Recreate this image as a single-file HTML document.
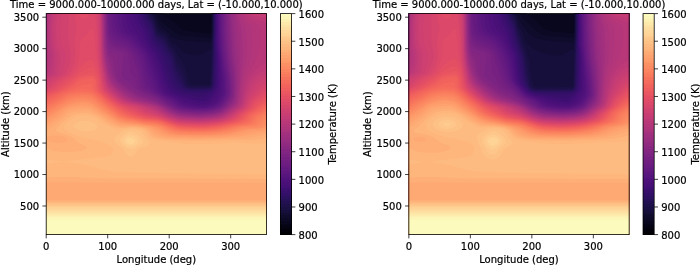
<!DOCTYPE html>
<html><head><meta charset="utf-8"><title>Temperature</title>
<style>
html,body{margin:0;padding:0;background:#fff}
svg{display:block}
.t{font-family:"DejaVu Sans","Liberation Sans",sans-serif;font-size:10px;fill:#000;stroke:#000;stroke-width:.2px}
.m{text-anchor:middle}.e{text-anchor:end}
.fr{fill:none;stroke:#000;stroke-width:.8}
.tk{fill:none;stroke:#000;stroke-width:.75}
</style></head><body>
<svg width="700" height="265" viewBox="0 0 700 265">
<defs>
<g id="fld">
<rect width="220.3" height="221" fill="#08071e"/>
<path fill="#0b0924" d="M0 0l117.3 0 .2 1 .5 1 .6 .9 1 .9 1 .5 2 .7 3 1.6 2 1.6 7.6 6.8 1.4 .9 1 .5 2.1 .6 7.8 1.1 9 .8 8 .4 .3-4.3 .2-15 55.3 0 0 221-220.3 0z"/>
<path fill="#0e0b2b" d="M0 0l111.7 0 1 3 .9 2.2 1.2 1.8 1.8 2.1 2 1.7 5 3.4 5 4.3 3 1.7 3 1.1 4 .9 10.9 .9 15 .9 .6-4 .4-3.5 .1-16.5 54.7 0 0 221-220.3 0z"/>
<path fill="#130d34" d="M0 0l108.2 0 1.2 2 3.2 7.5 1 1.6 3 3.4 1.8 1.5 2.7 2 5.5 5.8 1 .7 1 .4 4 1 6 1.1 16.9 1.3 9 .4 1-5.8 .2-3.9 .2-4 0-15 54.4 0 0 221-220.3 0z"/>
<path fill="#160f3b" d="M0 0l106.2 0 1.4 2 .6 1 3.4 9.1 1 2.2 1 1.5 2 1.7 4 2.6 1 .9 4 5.8 2 2.5 1 .7 1.9 1 2.5 2 1 1 2.6 3.1 1 .9 3 1.3 4.9 1.7 3 .8 2 .2 2-.1 2-.6 2-.8 5.8-3.5 1.9-1 .3-.1 1 0 1-7.9 .6-9 .2-19 54 0 0 221-220.3 0z"/>
<path fill="#1a1042" d="M0 0l104.5 0 2.2 2.9 1 1.9 2 6.3 1.4 3.9 1 2 .5 .8 1 1 5 3.1 1.2 1.1 .8 1.1 2 4 1.9 2.9 1.1 1.3 2 1.9 1 1.2 .8 1.6 1.2 2.9 2 3.5 2 3.1 2.6 3.5 1 2 .8 2 .9 3 1.7 7.1 2.2 5.9 1.3 1 .4 .1 1 .2 2 .1 7-.1 7.7-.3 .3 0 .3-1 .7-13.9 .3-12.1 .7-7.8 1-18.2 .1-18 53.7 0 0 221-220.3 0z"/>
<path fill="#1e1149" d="M0 0l103 0 2.7 4 1.2 2 .8 2 2 7 .9 2.4 1 1.8 1 1.2 .8 .6 4.2 2.6 1 .8 1 1 1 1.7 1 2.5 1 2.1 3.7 4.3 1.4 2 .9 2.1 2 6.5 2 3.9 3 4.8 1 2 1.6 4.7 2.1 8 .6 1 .7 .6 .8 .4 2.1 .6 2 .3 4 .1 6-.1 7-.3 .6-.6 .5-1 .2-1 .3-6 .6-20 .5-14 .7-12 .1-18 53.3 0 0 221-220.3 0z"/>
<path fill="#221150" d="M0 0l101.8 0 .9 1.9 3 4.5 1 1.8 1 2.9 1 4.1 .8 2.8 1.1 2.3 1 1.4 1 .9 4 2.6 1 .8 1.1 1 .9 1.3 2 4.7 .6 1 .4 .7 3 3.3 1 1.7 .6 1.3 .7 2 1.7 7.1 1 3 5 8.5 1 2.5 2 5.9 .4 1 .7 1 .9 .7 1 .5 .9 .3 2 .4 2 .2 5 0 5 0 7-.4 1-.7 .5-1 .3-1 .2-2 .3-5 .7-26.4 .3-8.6 .6-11 0-18 52.9 0 0 221-220.3 0z"/>
<path fill="#29115a" d="M0 0l100.6 0 .8 2 1 2 3.2 5 1.1 2.2 1 3.5 1 4.2 1 2.6 .9 1.5 1 1.1 1 .8 3.1 2.1 2.1 2 .8 1.2 1 1.8 2 4.2 1 1.3 2 2.2 .8 1.3 .4 1 1 3 2.4 10 1 3 1 2 4.4 7.2 1.7 3.8 .6 1 .9 1 .8 .6 1 .6 1 .3 2.9 .5 2 .1 6 .1 4-.1 7-.4 1.1-.7 .7-1 .7-2 .3-3 .2-7 .8-32 .5-12 0-17 52.5 0 0 221-220.3 0z"/>
<path fill="#2d1161" d="M0 0l99.4 0 1.1 3 1.2 2.7 3 4.8 1.2 2.5 .8 2 1.7 7 .9 2 .4 .6 .9 1.1 4 3.2 1 1.1 2 3 2.9 5 1.1 1.6 1.2 1.4 1.2 2 .6 1.3 1 3.3 1.7 7.4 1.6 6 .7 1.8 .6 1.2 1.2 2 5.2 7 1 1 1.6 1 1.4 .5 1 .2 2.9 .3 3 .2 6 .1 3-.1 6-.5 1-.1 1-.4 1-1.1 .6-1.1 .7-2 .2-2 .3-5 .4-14 .1-9 0-12 .5-13-.1-16 52.1 0 0 221-220.3 0z"/>
<path fill="#331067" d="M0 0l97.8 0 1.5 4 1.3 3 3.4 6 .9 2 .8 2 1.6 6 1.1 3 1.3 1.8 2.9 2.8 2 2.4 1.2 2 2.8 5.2 2.5 3.8 1.1 2 1.5 4 3.4 13 1.1 3 1.1 2 .6 1 1.7 2 3 3 2 1.4 1 .6 1 .4 2 .5 3.9 .4 9 .3 4-.2 6-.8 1-.3 1-.8 1.1-1.5 .5-1 .6-2 .3-3 .3-6 .4-14 0-7-.4-11 .4-14-.1-16 51.7 0 0 221-220.3 0z"/>
<path fill="#38106c" d="M0 0l96 0 .9 3 1.2 3 1.9 4 2.7 5 .8 2 2.4 8 1.2 3 1.2 2 2.8 3 1.5 2 1.8 3 3 6 2.9 7 1.3 3.4 3.5 11.6 1.4 3 1.3 2 1.8 2.3 1.8 1.7 2.2 1.5 3 1.3 2 .5 2 .3 8.9 1 5 .3 2-.1 2-.4 4.3-1.4 1.7-.4 1-.6 1-1 1.3-2 .5-1 .5-2 .3-4 .2-6 .3-17 0-3-.6-7-.1-3 .3-15-.2-16 51.3 0 0 221-220.3 0z"/>
<path fill="#3d0f71" d="M0 0l93.8 0 .7 3 1.4 4 1.3 3 3.2 6 .9 2 1 3 1.5 5 1.1 3 .8 1.6 .9 1.4 2.7 3 1.4 2 1.8 3 1.9 4 1.9 5 5.9 18 1.4 3.1 1.8 2.9 1.6 2 2.3 2 2.3 1.4 3 1.3 3 .8 4.9 .9 8 1.7 3 .5 2 .2 2-.1 1-.3 1-.5 2.8-1.9 3.2-1.9 2-2.2 1.2-1.9 .8-2 .5-2 .3-10 .2-19-.1-2-.7-6-.2-3 .3-16-.3-15 50.8 0 0 221-220.3 0z"/>
<path fill="#440f76" d="M0 0l91.1 0 .2 2 .5 2 1.3 4 1.8 4 2.8 4.9 1 2.1 1 2.5 2.2 6.5 .9 2 1.8 3 4.5 6 1.7 3 1.4 3 2.2 6 4.1 14 1.1 3 2 4.5 1.5 2.5 .8 1 1 1 1.3 1 1.6 1 2.1 1 5.7 2.4 3 1 10.9 3 4 .7 4 .3 1-.1 1-.3 1.8-1 4.2-3.5 1-1.1 3.4-5.4 .9-2 .5-2 .2-1 0-3-.2-26-.1-2-.8-6-.2-3 .1-17-.3-14 50.3 0 0 221-220.3 0z"/>
<path fill="#491078" d="M0 0l87.8 0 .2 3 .3 2 .8 3 .6 1.7 2.3 4.3 3.2 5 1.5 2.7 4.1 9.3 1.3 2 4.3 6 1.2 2 1.5 3 1.8 4 1.4 4 1.6 5 2.6 9 1.1 3.4 1 2.6 .9 2 1.1 1.9 .8 1.1 .9 1 1.1 1 1.2 .7 6 2.5 8 3.7 6.9 2.1 4 .9 4 .6 4 .3 2-.3 2-.8 2.6-1.7 1.4-1 1.1-1 1.5-2 3.4-5.9 .8-2.1 .4-2 .2-3 0-4-.9-24-.2-3-.7-5-.2-3 0-18-.3-13 49.7 0 0 221-220.3 0z"/>
<path fill="#4e117b" d="M0 0l83.8 0 .2 4 .5 3 .8 3 1.1 3 1 2 .7 1 3.6 4.1 2.3 2.9 1.7 2.8 2.7 5.2 5 7 1.8 3 3.1 7 2.3 6 1.3 4 2.8 9 1.9 5.8 1.6 3.2 1.4 2 1 1.1 2 1.4 1 .5 6 2.4 2 1 5 2.8 2 1 5.9 1.7 4 .8 4 .6 5 .2 1-.1 2-.4 2-.8 4-2.2 1.2-1 1.7-2 3.2-5 .8-2 .6-3 .3-5-.2-6-1.4-23-1.1-10 0-19-.4-12 49.1 0 0 221-220.3 0z"/>
<path fill="#52137c" d="M0 0l79.7 0 .2 4 .5 4 .8 4 .9 3 .5 1 .8 1 1 1 4.3 3.5 1.5 1.5 1.5 1.7 1.6 2.3 2.6 4 4.6 6 2 3 1 2 .8 2 5.4 14.2 4.8 14.8 1.4 3 1.3 2 2.2 2 1.4 1 2 1 3.8 1.5 3 1.4 1.8 1.1 4.2 2.8 2.3 1.2 3.5 1 5.3 1 5.8 .6 5 .2 2-.2 2.5-.6 4.5-1.9 2-1.2 1-.9 1-1 2.9-4 1.3-2 .7-2 .3-6 0-4-.1-3-1.2-14-.9-11-1.1-10-.1-19-.4-12 48.4 0 0 221-220.3 0z"/>
<path fill="#57157e" d="M0 0l75.7 0 .2 4 .4 4 .8 5 .5 2 .3 1 .8 1.2 1.9 1.8 5.1 3.6 3 2.6 2 2.4 3.3 4.4 4.3 5 2 3 1.3 3 3.8 11 4.9 13 2 6 1.4 3 1.4 2 2.1 2 1.4 1 3 1.7 5 2.1 2 1.1 1.7 1.1 3.9 3 2.4 1.2 2.5 .8 6.3 1 6.1 .6 5 .1 3-.1 3-.6 4-1.3 1.4-.7 1.7-1 1.3-1 1-1 2.5-3.3 1.2-1.7 .8-1.6 .5-1.4 .2-1 0-9-.2-4-1.6-15-2-20-.3-19-.3-12 47.6 0 0 221-220.3 0z"/>
<path fill="#5d177f" d="M0 0l71.6 0 .2 4 .4 4 1 6 .6 2.2 1 1.5 1.2 1.3 2.8 2 4.9 3.2 3 2.4 2 2.2 3.4 4.2 3.8 4 2.2 3 1 2 .7 2 3.2 11 1.7 5 2.9 7 2.2 6 1 2 1.3 2 1.9 2 2.6 2 3.3 2 6.7 3.2 1.2 .8 4.8 3.8 2.3 1.2 3.5 1 6.1 .8 6 .6 5 .2 4-.2 4-.7 2.7-.7 1.3-.5 1.3-.5 1.7-1 2.5-2 1.4-1.7 2.8-4.3 .9-2 .3-1 .2-1 0-2-.2-7-.1-3-.6-5-1.6-13-1.9-18-.8-31 46.9 0 0 221-220.3 0z"/>
<path fill="#621980" d="M0 0l68.2 0 .2 4 .4 5 1 6 .6 2 1.4 2 2 1.8 1.7 1.2 6.2 3.6 3 2.3 9.4 10.1 1.6 2 1.1 2 1 3 3 12 1.5 5 4.1 10 1.1 2 1.3 2 2 2 3.8 3 3.3 2 7.4 4 5.1 4 1.6 1 1.6 .7 3 .9 3 .5 8.9 1 7 .3 3-.1 2-.2 5-1 3.6-1.1 2.4-1.2 2.4-1.8 1.7-2 3-5 .8-1.9 .3-1.1 .2-1 0-3-.4-9-.6-5-2-14-1.7-17-.9-31 46 0 0 221-220.3 0z"/>
<path fill="#671b80" d="M0 0l65.5 0 .2 6 .5 5 .8 5 .8 2.1 1 1.6 1 1.3 2 1.7 2.1 1.3 5.8 3 1.5 1 1.5 1.2 6.9 6.8 2.6 3 1.4 2 1.4 3 1.3 4 .9 4 1.5 7.5 1 3.8 2 5.4 1 2.3 1 2 1.4 2 2.1 2 5.4 4 8.6 5 3 2 3.9 3 1.6 1 2 1 2.9 1 5 .9 8.9 1 6 .2 5-.2 6-1 4-1.1 1.9-.8 1.8-1 1.2-1 1-1 1.6-2 2.9-5 .8-2 .3-1 .1-1 0-3-.4-9-.6-5-2.3-15-1.6-15-.3-7-.7-25 45.1 0 0 221-220.3 0z"/>
<path fill="#6b1d81" d="M0 0l63.5 0 .3 8.3 .6 6.7 .4 2.2 1 2.5 1 1.7 1 1.2 2 1.9 2.3 1.5 4.7 2.2 1.9 1.1 2 1.4 3 2.4 2 1.8 2 2 2.6 3.1 1.1 2 .9 2 1.8 5 1.3 5 1.7 9 1.6 6.2 1.1 2.8 1.3 2 .9 1 2.5 2 4.4 3 10.2 6 5.4 4 1.5 1 3.6 2 2 .9 3 .9 4 .8 8.9 .9 7 .3 3-.1 3-.2 6-1 2-.5 2-.7 2.9-1.3 1.5-1 1-1 1.5-1.8 .9-1.2 2.8-5 .8-2 .2-1 .2-1 0-3-.3-7-.3-3-.6-5-1.7-9.9-.8-6.1-1.3-13-.5-9-.7-23 44.2 0 0 221-220.3 0z"/>
<path fill="#701f81" d="M0 0l62.3 0 .2 8 .4 8 .8 4 1.1 2.7 1.7 2.3 2.3 2.1 3 1.9 6.9 3.3 2 1.2 2 1.5 2 1.7 1.2 1.3 1.6 2 1.1 2 2.1 5.1 1.4 3.9 .6 2 1 4.1 2.8 13.9 .7 2 .5 1 .8 1 1.3 1 1.6 1 15.6 9 5.3 4 1.6 1 3.7 2 3 1.4 3 1 5 .9 8.9 .9 6 .3 6-.2 7-1 2-.5 2.4-.8 2.4-1 1.1-.6 2-1.6 2.4-2.8 3-5 1.2-3 .4-2 0-2-.7-11-.8-7-1.6-9-.8-6-1.2-12-.6-11-.6-21 43.2 0 0 221-220.3 0z"/>
<path fill="#762181" d="M0 0l61.6 0 .1 10 .3 7 .8 5.5 1 2.7 1 1.7 1 1.2 1.9 1.9 1.1 .8 2.4 1.2 5.6 2 2.9 1.5 2 1.4 1 .9 1.8 2.2 1 2 2.6 8 2.6 6.6 1 3.4 1 4.5 1.2 7.5 .7 2 .7 1 1 1 1.5 1 11.9 6 3.6 2 2.3 1.5 4.8 3.5 1.6 1 3.8 2 4.3 2 3.5 1.1 4.7 .9 9.2 1 6 .2 6-.3 7-.9 4-1.1 2.4-.9 1.5-.7 2-1.3 1.1-1 2.5-3 2.9-5 .5-1 .7-2 .3-2 0-2-.7-11-1-8-2.3-14.9-1-11.1-.7-13-.6-19 42.2 0 0 221-220.3 0z"/>
<path fill="#7b2382" d="M0 0l60.9 0 .2 9 .3 9 .4 4.6 1 4.9 1 2.3 .8 1.2 1.2 1.3 1 .7 2 1 5 1.5 3.6 1.5 1.3 .8 1 .7 1.4 1.5 .6 1 .2 1 .8 5 .8 7 .9 4 .8 2 .5 1 2.9 4 .5 1 .6 1.8 1.3 5.2 .4 1 .7 1 1.6 1.5 2.3 1.5 2 1 7.7 3.3 4 1.9 3.1 1.8 5.9 4 3.4 2 4.5 2.2 4 1.8 3 .9 5 .9 8.9 .9 6 .2 6-.3 7-.9 4-1 2-.7 2.2-1 1.6-1 1.3-1 1.1-1 1.7-2 1.5-2 1.5-2.7 1-2.1 .4-1.2 .4-2 .1-2-.4-9-.9-9-2.3-16-.6-6-1.2-17-.7-21 41.1 0 0 221-220.3 0z"/>
<path fill="#802582" d="M0 0l60.4 0 .2 12 .3 8 .9 8.3 1 4.1 1 1.8 1 1 1 .7 2 .8 3 .7 2.1 .6 1.9 1 1 .7 .4 .3 .7 1 .2 1-.2 5-1 11-.1 4 0 1 .6 1 1 1 1.3 1 3.3 2 1.7 1.2 2 2 2.2 2.8 .9 1 2.3 2 1.5 1 3.8 2 7.3 2.8 4.9 2.2 3 1.7 9 5.3 5.9 3 2.2 1 2.9 1.1 4 .9 3 .5 6.9 .7 4 .3 4 .1 6-.3 7-.9 2-.4 3-.9 1.9-.8 2-.9 2-1.3 1.4-1.1 1.9-2 1.6-2 .8-1 1.3-2.4 .7-1.6 .7-2 .3-2 .1-2-.4-10-.8-8-2.1-15-.6-6-1.2-19-.8-20 40 0 0 221-220.3 0z"/>
<path fill="#842681" d="M0 0l59.8 0 .2 10 .3 10 .5 6.4 1 7 1 3.2 1 1.6 1 .8 1 .5 3.6 1.5 .9 1 .4 1 .4 2 .2 2 .6 15 .3 1 .4 1 1.2 1.5 2 1.9 4.7 3.6 4.9 4 4.1 3 2.2 1.4 3.2 1.6 6.8 2.3 5 2.1 5.9 3 11 6 4 1.9 3 1.2 2 .6 4 .8 9.9 1.1 7 .3 6-.3 7-.9 2-.4 3-.9 1.9-.7 2-.9 2-1.2 2.5-2 3.6-4 .8-1 1-2 1.1-3 .4-2 .2-2-.3-12-.6-7-2-15-.6-6-1.3-20-.8-19 38.9 0 0 221-220.3 0z"/>
<path fill="#892881" d="M0 0l59.3 0 .2 12 .3 9.5 .7 8.5 .7 5 .6 2.7 1 2.8 1 1.9 1.3 1.6 .6 1 .5 1 .7 2 .7 3 1.8 10 .5 2 1.1 2 1.8 2.2 2 1.9 4.5 3.9 5.7 4 5.7 3.6 3 1.4 9 3.1 7.9 3.3 5 2.4 8 4.4 4 1.9 3 1.1 2 .6 4 .8 9.9 1.1 7 .2 6-.3 7-.8 4-.9 2.9-1.1 2-.9 2-1.1 2.5-1.8 2.1-2 1.9-2 1.5-2 1-2 .7-2 .4-2 .3-3 .1-9-.2-4-.6-7-1.7-13.1-.7-6.9-1.2-20-.9-19 37.7 0 0 221-220.3 0z"/>
<path fill="#902a81" d="M0 0l58.9 0 .2 15 .3 9 .5 7 .9 6.6 1 4 1 3.4 1.8 5 3 12 .4 1 1.1 2 1.5 2 1.2 1.4 3 3 3.1 2.6 7.3 5 4.5 2.7 4 1.7 10 3.3 7.9 2.9 4 2 8 4.4 5 2.2 4 1.4 2 .4 3 .4 8.9 .9 7 .3 7-.4 7-.9 4-1 3.9-1.6 2-1.1 2.3-1.6 2.5-2 2-2 1.8-2 .6-1 1.1-3 .7-3 .2-3 .3-8-.1-5-.6-8-1.7-14-.6-6-.8-13-1.3-25 36.5 0 0 221-220.3 0z"/>
<path fill="#942c80" d="M0 0l58.5 0 .2 16 .3 9 .6 9 .2 2.5 .4 2.5 2.6 11.1 3.3 11.9 .8 2 1.2 2 1.7 2.2 2 2.3 2.6 2.5 4.3 3.3 7 4.7 3.7 2 2.3 1 2.8 1 12.2 3.6 4.9 1.8 4 1.9 8 4.5 5 2.2 4 1.3 4 .7 9.9 .9 7 .3 6-.3 7.9-.9 4.1-1 3.9-1.5 2-1.1 2.1-1.4 2.6-2 2.4-2 1.9-2 .7-1 .6-1 .7-1.9 .5-2.1 .3-2 .5-6 .2-5-.1-6-.5-9-1.5-13-.5-5-2.3-38 35.3 0 0 221-220.3 0z"/>
<path fill="#992d80" d="M0 0l58.1 0 .2 18 .3 11 .4 6 .8 6.4 3 13.6 2 7 1 2.4 1 1.9 1.9 2.7 1.7 2 3.3 3 4.1 3.2 5.5 3.8 3.4 2 4 1.8 3.5 1.2 3.4 1 7.1 1.7 5.9 2 2 .8 3 1.5 6 3.6 2 1 5 2.2 4 1.2 4 .6 9.9 .9 7 .2 6-.2 7-.7 4-.8 3.9-1.3 2-1 2-1.1 2.3-1.6 3.9-3 1.2-1 1.8-2 .8-1.1 .4-.9 .4-1 .4-2 .5-3 .8-9 .1-4-.2-8-.5-9-1.9-22.2-.7-11.8-1.3-18 33.9 0 0 221-220.3 0z"/>
<path fill="#9e2f7f" d="M0 0l57.6 0 .3 20 .3 10 .5 8 .7 5 .4 2.4 2 9.3 1 4.2 .9 3.1 1.1 2.7 1 2 1.4 2.3 1.6 2 3.2 3 5.8 4.6 4.7 3.4 3.6 2 4.6 1.9 3.6 1.1 10.4 2.4 5.9 2 4 1.8 8 4.7 4.7 2.1 4.3 1.4 4 .7 9.9 .9 8 .3 6-.2 8-.9 4-.8 1.9-.6 2-.8 2-1 2-1.3 6.5-4.7 1.1-1 1.8-2 .7-1 .5-1 .5-2 .5-3 1-11 0-10-.2-12-.4-9-1.6-22-2-19 32.5 0 0 221-220.3 0z"/>
<path fill="#a3307e" d="M0 0l57.2 0 .5 30 .4 6 .7 7.5 1 5.5 2 9.4 1 3.8 1 2.6 1 2.2 1.8 3 1.2 1.5 2 1.9 3 2.6 4 3.3 2.9 2.2 2.3 1.5 1.8 1 2.1 1 2.4 1 3 1 3.9 1 9.5 2.1 5.8 1.9 2.1 .9 2 1.1 5 3.1 3.5 1.9 4.5 1.8 3 1 3 .7 5 .6 8.9 .6 6 .2 6-.3 8-.8 4.1-.8 3.8-1.2 2-1 2-1.2 7.8-5.6 1.2-1.1 1.6-1.9 .7-1 .4-1 .4-2 .5-3 .9-10 .9-26 0-6-.1-4-1.6-21-.4-3-2.3-13 30.9 0 0 221-220.3 0z"/>
<path fill="#aa337d" d="M.8 0l56 0 .5 31 .5 7 .8 8 1.2 6.4 1.9 8.6 .5 2 1.2 3 1.4 2.9 1 1.6 1.1 1.5 3.9 3.6 7 5.8 3.9 2.6 4.2 2 2.7 1 2.1 .6 13 2.9 6 1.9 3.5 1.6 6.4 3.9 3 1.6 3.5 1.5 4.5 1.5 3 .6 5 .6 8.9 .6 6 .2 6-.3 8-.8 5-1 1.9-.5 2-.8 2-1.1 1.7-1 8.5-6 1.1-1 1.6-2 .5-1 .4-1 .8-4 .6-6 1.3-18 1.6-14 .1-5-.1-5-.6-12-.3-5-.4-4-.7-3-2.1-7.1-1.2-4.9 29.1 0 0 221-220.3 0 0-209z"/>
<path fill="#ae347b" d="M1.6 0l54.8 0 .5 32 .5 7 .8 8 .9 5 1.9 9 .8 3.3 1 2.6 1.6 3.1 1.3 2 1.1 1.2 2.9 2.8 7.1 6 2.9 2 3 1.6 3.5 1.4 2.5 .8 14.3 3.2 3.5 1 2.8 1 3.3 1.6 8 4.7 2 1 3 1.2 5 1.6 4 .8 4 .4 6.9 .5 8 .2 6-.2 8-.8 5-.9 3.5-1.1 2.1-1 1.8-1 8.7-6 1.4-1 1-1 1.5-2 .8-2 .8-4 .7-7 .8-9 .8-5.9 1-5 1.9-8.1 .6-3 .2-3 .2-10 0-5-.2-5-.4-5-.5-4-.7-2-3.5-7-1.8-5 27.1 0 0 221-220.3 0 0-191 1-20z"/>
<path fill="#b3367a" d="M2.5 0l53.5 0 .5 33 .5 8 .8 7 1 5.9 1.9 9.1 .9 3 1.2 2.9 1 1.8 1 1.5 1.5 1.8 2 2 7.5 6.5 2.1 1.5 3.6 2 2.4 1 3.1 1 14.7 3.4 5.5 1.6 2.5 1 1.9 .9 8.8 5.1 2.2 1 2.5 1 5.5 1.7 4 .8 10.9 .8 8 .3 6-.2 8-.8 5-.9 1.9-.5 2-.7 2-.9 2-1.1 9.7-6.5 1.3-1 .9-1 1.1-1.5 .8-1.5 .7-3 2.1-16 1.1-6 1.3-4.3 3.4-9.7 1.2-4 .5-3 1-9 .2-3-.1-11-.3-5-.1-1-.5-1-.7-1-5.6-6.6-2-3.2-1.1-2.2 25 0 0 221-220.3 0 0-168.4 1-3.8 .5-4.8 .1-3-.4-8 0-6 .6-16z"/>
<path fill="#b83779" d="M3.5 0l52.1 0 .4 33 .5 8 .9 8 1.2 7 2.2 10.1 1 2.7 1.1 2.2 1.4 2 1.5 1.8 2 2 7 6.1 3 2.1 1.9 1.1 2 .9 3 1 16.7 4 4.3 1.3 4.1 1.7 9.1 5 2.7 1.3 3 1.2 5 1.6 3 .7 2 .3 10.9 .8 8 .3 6-.3 8-.7 5-.8 3.9-1.1 2-.9 2.7-1.4 5.8-4 4.6-3 1.3-1 1.5-2 1-2 .3-1 2.8-16 .6-3 .9-3 1-3 1.5-3.2 2-3.7 4.8-8.1 1.3-3 2.6-10 .6-3 .1-2 .2-15-.2-1-.6-1-.9-1-1.3-1-5.7-3.4-2.9-2.4-3-3.1-1.5-2.1 22.4 0 0 221-220.3 0 0-161.9 1.5-3.1 .9-3 .8-4 .4-4 .1-3-.1-2-.9-6-.2-4 .2-18 .3-5.5z"/>
<path fill="#bd3977" d="M4.7 0l50.4 0 .5 33 .3 7 .6 6 1.3 9.1 2.3 10.9 .7 2.5 .6 1.5 1.1 2 1.3 1.9 1 1.2 1.9 1.9 6.7 6 3.4 2.4 2.9 1.6 2.6 1 2.4 .7 9.9 2.3 7.5 2 2.6 .9 5.9 2.5 6.7 3.6 4.3 2.1 5 1.8 5 1.3 2 .4 4 .4 10.9 .7 6 .1 6-.3 9-1 4.9-.9 2-.6 2.5-1 3.6-2 5.7-4 4.8-3 1.1-1 .8-1 1.1-2 .7-2 1.7-8.1 2.3-8.9 1-3 1.7-3.6 1-1.6 1.9-2.7 2-2.4 2-2 3-2.7 3-2.4 2-1.3 2-1.1 0 172.8-220.3 0 0-159.1 1.3-.9 1.2-1 .6-1 .4-1 .7-2 .7-3 .5-3 .4-3 .2-4-.1-3-1.5-6-.3-2-.2-2 0-18 .1-4zM201 0l19.3 0 0 9.4-11-3.7-2-.7-1-.6-1.9-1.2-2-1.8z"/>
<path fill="#c43c75" d="M6.4 0l48.3 0 .5 35 .3 6 .4 5 1.5 10 1.9 10 .6 2 .9 2.7 1 1.9 .9 1.4 1.1 1.4 1.5 1.6 6.5 5.8 3 2.4 3.1 1.8 2.3 1 3.1 1 10.4 2.4 8.5 2.6 8.4 3.5 7.1 3.5 3.9 1.8 3.4 1.2 4.6 1.4 4 .8 5 .5 10.9 .6 4 .1 4-.1 8-.7 7-1 2.8-.6 2.1-.7 2-.8 2-.9 3-1.9 4-2.9 6-3.8 1-1 .7-1 .6-1 .8-2 2.2-8 3.1-9 1.6-3.3 1.1-1.7 1.8-2.5 1.4-1.5 1.6-1.6 3-2.2 2-1.1 2-1 2-.6 1-.2 0 164.7-220.3 0 0-157.3 3-1.7 1.6-1 1.1-1 .5-1 .8-3 .6-3 .4-3 .2-4 .1-5-.3-2-1.2-4-.8-3-.2-2-.3-7-.1-11 .4-6zM204.6 0l15.7 0 0 4.6-5-.8-6-1.4-2-.6-1-.6z"/>
<path fill="#c83e73" d="M8.4 0l45.7 0 .7 35 .2 7 .3 4 1.1 8 1.2 7 1 5 1.4 5 .8 1.8 1 1.6 1.2 1.6 1.8 1.8 5.8 5.2 3.9 3 3.3 1.8 1.9 .8 3 1 10 2.2 3.6 1.2 5.5 2 8.8 3.5 10 4.6 3 1.1 4 1.3 5 1.2 4 .5 11.9 .7 8 0 8-.6 8-1 4.9-1.2 4-1.6 3-1.7 5.1-3.8 5-3 1.3-1 .6-.6 .9-1.4 1-2 2.1-6.2 3-6.9 1.9-3.9 2.6-4 2.4-2.8 1.4-1.2 1.6-1.2 3-1.7 2-.6 2-.4 0 159.9-220.3 0 0-155.5 6.4-3.5 1.5-1 1-1 .5-1 .8-5 .5-6 .1-7-.3-2-1.8-5-.7-3-.6-10-.1-6 .1-4 .4-6zM212.9 0l7.4 0 0 .7-3-.1z"/>
<path fill="#cd4071" d="M11.2 0l42.2 0 .4 15 .5 24 .4 7 .8 6 2.2 13 1.5 6 .7 2 1.1 2 1.6 2 1.2 1.2 6.6 5.8 3.4 2.5 3 1.7 1.9 .8 3 1 8.8 2 3.3 1 7.9 3.3 8.9 3.2 10 4.3 5 1.7 5 1.4 4 .7 11.9 .8 5 .2 4 0 7-.5 9-1 5.1-1.1 2.8-.9 2-.8 2-1 2-1.1 5-3.8 5-3 1.7-1.4 .9-1 1.1-2 2.3-5.9 1-2 3.9-6.6 2-2.9 2-2.6 2-2.1 1.1-.9 1.9-1.3 2-1 1-.3 2-.5 0 156.1-220.3 0 0-153 2.4-2 7.4-4 1.5-1 1-1 .4-1 .6-5 .4-4 .2-5 .1-4-.4-2-2.4-6-.5-2-.6-7-.3-6 0-4 .2-4.2 .5-4.8z"/>
<path fill="#d2426f" d="M15.9 0l36.6 0 .4 12 .7 28 .5 7 1 7 1.4 9 .8 4 1.5 5.6 1 2.3 .7 1.1 1.3 1.6 1.4 1.4 7 6 3.6 2.5 2.9 1.5 4 1.5 10.3 2.5 2.7 1 4 2 2.4 1 3.6 1.3 6.9 2.2 8.8 3.5 4.2 1.5 6 1.8 4 .8 4 .4 6.9 .4 9 .3 4-.1 4-.3 10-1 4.9-1 2.7-.8 2.3-.8 2.6-1.2 1.8-1 1.6-1.1 3.6-2.9 4.9-3 1.4-1 1.1-.9 .8-1.1 .6-1 2.2-5 1.4-2.4 1.9-2.7 6-7.5 2-2.1 2-1.6 2-1.2 1.4-.5 1.6-.4 0 152.4-220.3 0 0-149.7 2.2-2.3 2.2-2 1.4-1 1.7-1 5.8-3 1.4-1 1-1 .4-1 1.6-7 1.1-6 .3-3 0-2-.1-1-.6-2-2.4-5-.7-2-.7-6-.4-7-.1-4 .3-4 .6-4.6z"/>
<path fill="#d6456c" d="M22.7 0l28.5 0 .6 9.7 .9 30.3 .3 5 .9 7 2.2 13 1.6 7 .6 2 1 2 .6 1 1.9 2 5.8 5 3.2 2.5 3 1.9 2 1 2 .9 2.9 .9 7.1 1.8 2.9 .9 2.4 1.1 4.6 2.4 2 .9 3 .9 8.9 2.6 12 4.4 5 1.5 3 .7 3 .5 4 .3 8.9 .5 6 .1 7-.3 10-1 3.9-.6 3.8-.9 3.2-1 3-1.2 3-1.7 5.2-4.1 4.8-3 2-1.6 1.1-1.4 2.9-5.5 1.9-2.8 7-7.4 2-1.9 2-1.5 2-1.1 2-.6 0 148.8-220.3 0 0-146.7 1.5-1.3 3.9-4 2.4-2 1.5-1 7.5-4 1.3-1 1-1 .5-1 2.9-7 1.4-4 .8-4 .2-3-.4-3-1.4-5-.5-3-.3-9-.1-7z"/>
<path fill="#dc4869" d="M27.5 0l20.9 0 .4 2.4 .8 5.6 .8 8 .4 6 .8 18 .7 8 1 6 3.2 17 1.2 4 1.1 2.2 1.6 1.8 5.8 5 3.9 3 3.7 2.3 2 1 2.9 1.2 8.8 2.5 2.2 .8 2.6 1.2 4.4 2.4 2 .9 3 .9 9.9 2.4 11 3.9 5 1.5 3 .8 3 .6 5 .4 7.9 .4 9 .2 4-.2 5-.4 6-.6 3.9-.7 3-.6 3.4-.9 2.9-1 2.7-1.2 1.5-.8 1.4-1 4.9-4 4.7-3 1.3-1 1-1 .8-1 2.9-5 1.4-1.9 1-1 8-7.1 2-1.4 2-1 1-.4 0 145.8-220.3 0 0-144.7 2.2-1.3 1.3-1 5.4-5 2.5-2 1.5-1 5.8-3 1.6-1 1.3-1 1-1 .7-1 2.5-5 1.2-3 1-3 .5-2 .3-2 .1-2 0-3-.8-8 .2-4 .6-4 1.4-6 .2-2-.3-3-1.9-8z"/>
<path fill="#e04c67" d="M31.6 0l10.8 0-.4 2-.9 2-.2 .3-1 .7-1 .2-2-.3-1-.3-1-.5-1-.8-1-1.2zM44.2 16l.7-.7 1-.3 1 1.7 .9 4.8 .3 2.5 .7 7 .5 8 .4 4 2.1 9 3.9 20 .9 3 .8 2 .7 1 .9 1 5.8 5 3.9 3 4.1 2.6 4 2 2.9 1.1 6 1.9 3 1.2 3 1.4 4 2.1 2 .9 3 .9 10.9 2.3 15 4.9 4 1.1 3 .6 5 .4 6.9 .4 9 .2 4-.1 5-.4 7-.7 3.9-.6 5-1.1 4-1.1 4-1.6 2.4-1.4 4.7-4 4.9-3.2 2.4-1.8 1-1 .7-1 2.8-4.3 1.6-1.7 1.4-1.3 8-6.1 3-1.7 0 143.1-220.3 0 0-143.4 3.8-1.6 1.6-1 2.5-2 5.8-5 3.1-2 6.1-3.3 2.3-1.7 1-1 1.7-3 2.5-5 1.6-4 .9-3 .5-3 .3-12 .4-2 .8-1.7 1-1.1 3.8-3.2 2.9-3 .3-.4 1-2.2z"/>
<path fill="#e44f64" d="M42.3 47l1.6-.6 2-.3 1 .7 .9 1.5 1 2.1 2 4.3 1 3.3 2 8.7 1.1 6.3 .5 2 .9 2 .6 1 1.9 2 4.5 4 4 3 4.5 3 3 1.7 3.9 1.7 8 3.1 10 4.6 3.1 .9 9.9 1.7 2.9 .7 14 4.6 3 .8 3 .7 6 .6 9.9 .5 6 .1 5-.2 10-.9 3.9-.6 6-1.2 6.5-1.8 2.5-1 2-1.1 2-1.5 3.8-3.4 5.2-3.4 2.1-1.6 1-1 3-4 1.8-2 2-1.5 4-2.8 5-3.2 0 140.5-220.3 0 0-142.2 4.8-1.8 2.2-1 3-2 5-4 2.6-2 7.3-4.3 2.4-1.7 2.3-2 3.3-5 2-2.6 1-1 3-2.3 2-1.3z"/>
<path fill="#e85362" d="M44.6 54l1.3-.1 1 .4 .9 .9 1 1.5 2 3.8 1 2.6 1 3.8 .8 5.1 .6 3 .8 2 .7 1 3.1 3.2 4 3.5 3 2.3 5 3.4 3 1.8 3 1.5 16.9 7.3 3 1.2 3.1 .8 9.9 1.4 2.9 .7 4 1.2 10 3.3 3 .9 3 .6 5 .6 10.9 .6 6 0 5-.2 10-.9 4.9-.7 7.2-1.5 5.8-1.6 3-1.2 1.9-1.2 1.3-1 4.4-4 7.4-5 1.1-1 2.8-3.5 1.7-1.5 3.3-2.2 6-3.6 0 137.8-220.3 0 0-141 8.2-3 2.2-1 3-2 5.5-4.2 6-3.9 7.3-4.9 1.4-1 2.3-1.9 1-.7 4-2.3 2-.7z"/>
<path fill="#eb5760" d="M41.6 60l2.3-.6 2-.2 1 .3 .9 .8 1 1 1.2 1.7 .8 1.7 .5 1.3 .4 2 .8 6 .6 2 .5 1 1.7 2 3.5 3.5 3 2.6 5 3.7 4 2.6 4 2.5 3.9 2 6.9 3.1 5 2 5.5 2 3.6 .8 10 1.3 2.9 .6 4 1.2 11 3.7 3 .8 3 .5 5 .5 10.9 .6 5 0 6-.2 9-.9 3.9-.5 6-1.2 9-2.2 2.8-1 2.2-1.2 2-1.6 3.2-3.2 1.2-1 6.4-4 1.4-1 2.9-3 1.8-1.6 3-1.9 5-2.6 0 135.1-220.3 0 0-139.4 3.5-1.6 8.1-3 2.1-1 11.2-7.4 5-3.9 3-1.7 2-.9z"/>
<path fill="#ef5d5e" d="M40.3 63l2.6-.5 3-.2 1 .2 .9 .6 1 1.2 .9 1.7 .4 2 .7 6 .5 2 .5 1 3 2.8 4 4 3 2.5 10 7 3 1.9 3 1.6 4.4 2.2 4.5 1.8 9.8 3.2 3.2 .6 10 1.2 2.9 .5 4 1.2 11 3.7 4 1.1 2 .3 6 .6 9.9 .5 6 0 5-.2 10-1 3.9-.6 7-1.5 9-2.1 3-1.1 2-1.2 2-1.8 3.1-3.2 1.3-1 6.7-4 1.4-1 3.4-2.9 2-1.4 2-1.1 3-1.3 0 132.7-220.3 0 0-137.7 7.1-3.3 5.9-2.2 3.9-1.8 8.6-5 1.4-1 4-3.5 2.3-1.5 2.7-1z"/>
<path fill="#f2625d" d="M43.6 65l2.3-.2 1 .3 .8 .9 .4 1 .2 1 .7 6 .5 2 .6 1 1 1 2.7 2.2 4.8 4.8 2.4 2 11.8 8.3 5 3 3.5 1.7 3.4 1.4 3 .9 8 2.3 3 .6 11 1.2 2.9 .6 3.6 1 7.4 2.6 5 1.6 2 .6 3 .6 5 .5 10.9 .5 6 .1 6-.4 8-.8 4.9-.7 17-3.7 3-.9 1.9-1 2.1-1.6 4-4.2 1.6-1.2 7-4 3.3-2.5 2-1.3 2-1 2-.7 0 130.5-220.3 0 0-135.8 8.6-4.2 9.6-4 7.7-3.6 2.4-1.4 4.6-3.8 2-1.2 3.2-1z"/>
<path fill="#f4675c" d="M37.1 71l3.8-.7 2-.2 1 0 1 .3 1 1.3 1.5 4.3 .8 1 1 1 3.9 3 5.7 5.5 3 2.3 5.9 4.2 5.1 3.8 3.6 2.2 3.3 1.7 3.4 1.3 2.6 .8 11 2.8 3 .5 10 1 2.9 .5 4.6 1.4 6.4 2.4 5 1.6 3 .8 3 .5 7.9 .6 9 .3 6-.1 6-.4 7-.7 3.9-.6 20.2-4.4 2.6-1 1.6-1 1.6-1.4 3.3-3.6 1.1-1 1.5-1 5.8-3 5.2-3.4 3-1.4 0 128.8-220.3 0 0-133.9 10.2-5.1 6.5-3 4.2-1.6 6-2 3.2-1.4 4.8-2.5z"/>
<path fill="#f66c5c" d="M32.2 76l2.7-.5 3 0 4 .4 2 .3 1 .3 5 3.5 3.9 3.3 4 3.7 2 1.7 7.4 5.3 4.6 3.6 3.8 2.4 4.2 2 2.9 1 2 .5 13 3 11 1.1 2.9 .5 4 1.1 9 3.3 4 1.4 3 .7 3 .5 7.9 .5 9 .4 6-.1 7-.5 7-.7 3.9-.6 12-2.8 9-1.8 2-.6 1.7-.9 1.3-.9 1.1-1.1 3.5-4 1.2-1 1.7-1 5.4-2.7 4-2.5 2-1 0 127.2-220.3 0 0-131.8 15.9-8.2 3-1.4 4-1.4z"/>
<path fill="#f7725c" d="M31.8 78l3.1-.3 5 .1 4 .4 1 .3 1 .4 1.9 1.1 1 .8 5 4.1 5 4.5 7.7 5.6 5.1 4 3.2 2 2 1 2.5 1 4.4 1.2 14 3 11 1.2 3.6 .6 4.3 1.3 11 4.2 4 1 3 .4 8.9 .6 9 .2 6-.1 7-.5 6-.6 4.9-.8 4-.8 7.5-1.9 10.8-2 2.7-.9 1.8-1.1 1.2-1 3.1-4 1-1 .8-.6 6-2.9 5-3 0 125.5-220.3 0 0-129.7 3-1.6 9-4.6 5.5-3.1 2.4-1.2 3-1.1z"/>
<path fill="#f9795d" d="M29.8 80l4.1-.5 4 0 6 .5 1 .2 1 .5 2.9 2 5 3.9 5 4.3 7 5.1 5 3.9 3.4 2.1 3.6 1.5 1.9 .7 3 .7 8 1.5 7 1.6 10 1 3.9 .7 5 1.5 8 3.2 3 1 4 1 3 .4 10.9 .6 9 .1 7-.2 8-.7 3.9-.5 4-.6 4-.9 6.1-1.6 3.9-.9 11-1.8 1-.3 1.9-1.1 1-.9 .9-1 2.1-3 1-1 1-.8 6-3 3-1.7 0 123.5-220.3 0 0-127.4 4.4-2.6 8.6-4.4 4.9-2.9 3-1.5 3-1z"/>
<path fill="#fa7f5e" d="M28.8 82l5.1-.7 4 0 3 .2 3 .4 2 .7 1.9 1.2 2 1.5 4 3 5 4.1 11.5 8.6 1.5 1 1.9 1 3.1 1.3 2.4 .7 2.5 .6 9 1.6 7 1.5 10 1.2 3.9 .6 2 .5 3 1 7 3 3 1.1 3 .8 4 .6 9.9 .6 10 .2 7-.2 8-.6 5.9-.6 5-.9 4-.9 8.1-2.1 2.9-.6 10.9-1.4 2-.9 1.3-1.1 3.1-4 1-1 1.2-1 1.7-1 4.7-2.3 0 121.3-220.3 0 0-125 3-2 3.4-2 7.6-3.9 6.9-3.9 3-1.1z"/>
<path fill="#fb8560" d="M28.1 84l4.8-.8 4-.2 3 .3 3 .4 2 .4 1 .5 1.9 1.1 5 3.6 5.9 4.7 11 8 3.1 1.8 3.1 1.2 4.8 1.3 10 1.7 6 1.3 11 1.4 3.9 .7 2.4 .6 2.7 1 5.9 2.7 3 1.2 4 1 4 .5 9.9 .6 10 .2 7-.2 8-.6 5.9-.6 6-.9 5-1.2 8-2.1 3-.6 10.7-1 2.2-.7 1-.6 1.8-1.7 2.2-2.7 1.2-1.3 1.8-1.4 1-.6 2-.9 0 118.9-220.3 0 0-122.9 8-4.9 11.9-6.4 3-1.3z"/>
<path fill="#fc8a62" d="M32.7 85l3.2-.2 3 .2 5 .8 2 .7 1.9 1.2 2 1.3 8 6 9.8 7 3.3 2 1.9 .9 2 .8 3 .9 2.9 .6 9 1.4 8 1.5 7 1 5.9 .9 4 1.2 7 3.4 3 1.1 4 1.1 4 .5 5 .3 7.9 .3 7 .2 5-.1 6-.3 6-.4 4.9-.5 5-.7 3-.5 4-1 10.2-2.6 3.8-.5 7.9-.4 3-.7 1.2-.4 1.5-1 1.1-1 3.2-3.4 2-1.5 0 115.9-220.3 0 0-120.8 10.1-6.2 9.8-5.3 3-1.2 3-1 4-1z"/>
<path fill="#fc9065" d="M31.7 87l3.2-.4 3 .1 5 .8 2 .6 1 .4 1.9 1.1 2 1.3 7 5.1 10.3 7 3.7 2.1 2 .9 2 .8 3 .8 2.9 .6 11 1.5 6 1.1 8 1.2 4.9 1 3.1 1 6.9 3.5 2 .8 4 1.2 4 .6 4 .3 7.9 .4 13 .2 10-.4 11.9-1.1 4-.6 3-.6 6-1.3 7.4-2 1.6-.3 3-.3 6.9-.3 4-.6 1.6-.5 1.9-1 3.5-2.8 0 111.8-220.3 0 0-118.7 4-2.3 8-5 5.9-3.5 2-1 3-1.1 6-1.8z"/>
<path fill="#fd9869" d="M31.5 89l3.4-.5 3 .1 2 .3 3 .5 2 .6 1 .5 2.9 1.7 7 4.9 10 6.4 5 2.8 3 1.3 3 .8 1.9 .4 14 1.7 9 1.5 4.6 1 3.7 1 2.6 1 6 3.1 3 1.3 3 .9 4 .7 5 .4 6 .3 13.9 .3 10-.3 10.9-.8 6-.6 3-.5 8-1.6 10-2.5 2-.2 6.9-.4 4-.5 3-.7 2.3-.9 .7-.4 0 108.4-220.3 0 0-116.4 5-2.9 11.9-7.7 3-1.7 3-1.2z"/>
<path fill="#fe9d6c" d="M31.5 91l3.4-.4 3 0 4 .5 3 .9 2.9 1.5 8 5.4 10 6.1 5 2.6 3 1.2 2 .5 2.9 .6 13 1.2 10.9 1.9 3.4 1 4.6 1.8 6 3.2 3 1.3 3 .9 4 .7 4 .4 6 .2 15.9 .4 11-.2 11.1-.7 5.8-.5 3-.4 9-1.6 10-2.3 3.9-.5 9-.9 3-.6 2-.5 0 106.3-220.3 0 0-114 4-2.3 4-2.4 6-4.1 3.9-2.9 2.2-1.3 2.8-1.2z"/>
<path fill="#fea36f" d="M32 93l3.9-.4 4 .1 3 .5 2 .7 2.1 1.1 6.2 4 5.6 3.2 7 4.3 4 2.1 3 1.2 2 .5 3 .5 9.9 .5 4 .4 3 .4 5 1 3.1 .9 2.5 1 9.1 5 2.3 1 3.3 1 4.6 .8 4 .4 6 .2 9.9 .3 9 .1 12-.3 13.9-.7 4-.4 9-1.2 10-2 17.9-2.9 0 104.7-220.3 0 0-111.4 6.3-3.6 3.7-2.3 5-3.6 3.7-3.1 2.2-1.5 1.1-.5 1.9-.6z"/>
<path fill="#fea973" d="M33.6 95l3.3-.2 4 .1 2 .3 2 .8 12.7 7 5.2 3.4 2.6 1.6 4 2 2.4 .9 2 .5 3 .3 9.9 .3 4 .3 4.9 .7 3.1 .7 3.6 1.3 1.9 1 4.5 3.4 3 1.6 2.6 1 2.3 .7 3 .6 3 .4 5 .5 5 .2 18.9 .3 13-.1 15.9-.7 13-1.1 4-.5 9.9-1.6 13-2.6 0 102.9-220.3 0 0-108.2 12.4-7.8 2.6-2 4.9-4.3 2-1.4 1-.5 2-.5 5-.8z"/>
<path fill="#feae77" d="M29 98l4.9-.7 4-.2 3 0 2 .4 3 1.1 5.9 2.8 4.6 2.6 4.2 3 2.2 1.4 3 1.6 4 1.7 2 .6 3 .4 3 .1 6.9-.1 4 .2 4 .4 3.6 .7 3.1 1 2.1 1 1.4 1 1.1 1 2.7 2.7 2 1.3 2.7 1 2.2 .6 3 .6 3 .4 9 .7 16.9 .5 16-.1 15.9-.5 10-.5 10-.4 7-.5 5.9-.9 10-2.2 0 48.8-220.3-.5 0-43.7 .3 .7 1.3 1 2 1 3.4 .9 4 .5 2 0 2-.2 3.9-.8 1-.4 1-.9 .3-1.1-.5-1-1.3-1-1.5-.6-1-.4-1.9-.5-3-.4-4-.1-4 .4-2.4 .6-1.5 1-.1 .2 0-7.3 4-2.6 4.1-3.3 7.1-5 6.7-5.7 1-.6 1-.5 2-.5zM0 187l0-.6 220.3 0 0 34.6-220.3 0z"/>
<path fill="#feb67c" d="M31.7 100l4.2-.5 5 0 3 .6 3.9 1.3 1.5 .6 2.1 1 1.6 1 5.7 4 4.1 2.4 4 1.9 4 1.4 2 .3 2 .1 8.9-.5 4 .1 4 .3 4.4 1 2.4 1 1.7 1 1.2 1 2.3 2.9 1 1.1 2 1.4 1.3 .6 1.7 .5 6.9 1.1 6 .6 5 .4 18.9 .4 20-.1 21.9-.6 16.9 .1 4-.2 4-.5 3-.6 4-1 0 41.2-152.5-.5-20.9-.4-21-1-6-.2-7.9 .2-12 .5 0-29.2 3 1 4 1.4 3 .6 5.9 .6 7 .2 3-.1 3.9-.4 5.3-1 2.8-.9 1-.5 .9-.6 .6-1-.6-1-1.7-1-4.2-1.8-2-1.1-1-.8-3.3-3.3-1.3-1-1.6-1-2.8-1.2-5-1.7-4.9-1.3-1.8-.8-.6-1 .3-1 2.8-4 1.8-2 2.4-2.1 6-4.4 2-1.2 3-1.4zM0 189l0-1 220.3 0 0 33-220.3 0z"/>
<path fill="#febb81" d="M31.2 103l1.7-.5 2-.3 4 0 4 .5 4.9 1.3 2 1 5 3.6 4 2.2 7 3.5 4 1.4 1 .2 2 0 7.9-1 5-.2 4.8 .3 4.2 .9 2.4 1.1 1.3 1 .9 1 1.3 2 1.1 1.4 1.7 1.6 1.3 .8 2 1 2 .6 6.9 1.1 4.8 .5 4.2 .6 4.1 .4 5.9 .9 5 .4 5.9 .3 8 0 9-.2 24.9-1.2 3 0 12 .6 7.9 .3 6-.1 4-.4 0 31.1-81.7-.9-45.9-.7-14-.4-9.9-.6-6-.9-6-1.3-11.9-3.2-5-1.2-5-1-6-1-3.9-.5-2.1-.5-2-.3-3-.1-2.9 .1-2 .3-2.1 .5-3.9 .5-7 1.1 0-4.9 7 1.2 6 .8 3.9 .2 4-.1 5.6-.8 23.3-2.6 10-1.4 2-.5 1.2-.5 1.7-1 1.1-1.2 1-1.8 .2-1 .2-1-.3-1-.8-1-1.1-1-1.3-1-2.9-1.8-1-.5-3-1.1-6-1.8-3.9-1-7-1.2-3-.7-14-5.1-1.8-.8-1.5-1-.9-1-.4-1-.3-1-.1-1 .1-1 .6-1 .9-1 2.4-1.8 4-2.2 3.3-2zM0 190l0-1 220.3 0 0 32-220.3 0z"/>
<path fill="#fec185" d="M32.9 108l2-.6 3-.3 3 .3 3.2 .6 2.8 1 1.7 1 1.3 1 1 1 .6 1 0 1-.6 1-1.3 1-2.5 1-2.2 .4-3 .3-3 0-3-.4-3-.7-1.6-.6-2.1-1-1.3-1-.6-1 0-1 .8-1 1.3-1 1.5-1zM78.4 117l2.3-.6 2-.3 2-.1 2 .1 2 .2 3 .7 2.5 1 1.4 1 3.7 5 4 4 .3 1-.2 1-.7 1.1-1 .9-1 .6-2 .9-5 1.4-1.8 1.1-.9 1-2.3 3.4-1 1.1-1 .8-1 .4-1 .2-1-.2-1-.3-1-.7-1-.9-3.3-4.8-1-1-3.9-3-2.3-2-.9-1-.6-1-.4-1-.1-1 .1-1 .3-1 .6-1 .6-.6 1.8-1.4 4.6-3zM0 191l0-1 220.3 0 0 31-220.3 0z"/>
<path fill="#fec68a" d="M81.3 119l1.4-.5 1-.2 2 .1 2 .5 1 .4 2 1.1 3 2.6 1.8 2 .7 1 .4 1 .3 1 0 1-.5 1-1.3 1-6.4 3.3-2 .9-1 .3-1 .1-1-.1-1-.3-2-.9-2.9-1.9-1.8-1.4-1-1-.7-1-.5-1-.2-1 .1-1 .4-1 .6-1 1.9-2 2.1-1.6zM0 192l0-.9 220.3 0 0 29.9-220.3 0z"/>
<path fill="#fecc8f" d="M81.4 122l1.3-.4 2-.2 2 .5 1 .4 1.4 .7 1.6 1.4 .5 .6 .6 1 .4 1 0 1-.2 1-.7 1-1.6 1.1-2 1-2 .6-1 .1-2-.3-1.3-.5-1.7-.9-1.3-1.1-.8-1-.5-1-.1-1 .2-1 .4-1 1.1-1.3 1-.8zM0 193l0-.7 220.3 0 0 28.7-220.3 0z"/>
<path fill="#fed395" d="M81.3 125l1.4-.7 1-.3 1 .1 1 .2 1.4 .7 1 1 .4 1 0 1-.5 1-1.6 1-1.7 .4-1-.1-1.2-.3-1.6-1-.7-1-.1-1 .3-1zM0 194l0-.3 220.3 0 0 27.3-220.3 0z"/>
<path fill="#fed89a" d="M0 196l0-.7 220.3 0 0 25.7-220.3 0z"/>
<path fill="#fddea0" d="M0 198l0-1 220.3 0 0 24-220.3 0z"/>
<path fill="#fde3a5" d="M0 199l0-.4 220.3 0 0 22.4-220.3 0z"/>
<path fill="#fde9aa" d="M0 201l0-.9 220.3 0 0 20.9-220.3 0z"/>
<path fill="#fcf0b2" d="M0 202l0-.1 220.3 0 0 19.1-220.3 0z"/>
<path fill="#fcf6b8" d="M0 204l0-.2 220.3 0 0 17.2-220.3 0z"/>
<path fill="#fcfbbd" d="M0 207l0-.6 220.3 0 0 14.6-220.3 0z"/>
</g>
<g id="fld2">
<rect width="220.3" height="221" fill="#08071e"/>
<path fill="#0b0924" d="M0 0l117.3 0 1.3 1 4 2.4 2 1.5 2.3 2.1 4.7 4.7 3 2.8 2 1.4 1 .5 2.2 .6 7.7 1.1 9 .8 8 .4 .3-4.3 .2-15 55.3 0 0 221-220.3 0z"/>
<path fill="#0e0b2b" d="M0 0l111.7 0 .9 1.8 2 2.7 2 2.3 5 5.2 5.2 5 2.7 2 2.1 1.1 3 1.1 4 .9 9.9 .9 16 1 .6-4 .4-3.5 .1-16.5 54.7 0 0 221-220.3 0z"/>
<path fill="#130d34" d="M0 0l108.2 0 1.9 4 1.5 3.6 1 1.8 6 9.1 1 1.1 1.7 1.4 4.3 2.6 2 .9 3 1 5 1 11.9 1.2 11 .7 6 .3 1-5.8 .2-3.9 .2-4 0-15 54.4 0 0 221-220.3 0z"/>
<path fill="#160f3b" d="M0 0l106.2 0 .6 1 .9 2 3.9 11.1 2.6 5.9 2.4 6.6 1 2.1 1 1.3 1.4 1 1 1 1.6 1.9 1 1 1 .5 8 3.4 4 1.4 3 .8 2.9 .6 3 .3 4 .1 2-.1 1-.2 2-.7 2-1 4.8-3 1.9-1 .3-.1 1 0 1-7.9 .6-9 .2-19 54 0 0 221-220.3 0z"/>
<path fill="#1a1042" d="M0 0l104.5 0 1.8 3 .8 2 1.6 5.4 3.4 10.6 1.5 5.8 1.2 3.2 1.6 4 .7 2 .5 2 2.2 6 .5 2 .8 4 .9 7 .6 5.5 1 5.1 1 3.4 .4 1 .7 1 1.9 .6 1 .1 26.9-.3 8-.2 .1-.2 .3-2 .4-8 .5-19 .7-7.8 1-18.2 .1-18 53.7 0 0 221-220.3 0z"/>
<path fill="#1e1149" d="M0 0l103 0 2.7 4.5 1 2.4 2 8.1 2.5 8 2 8 .4 1.3 1.8 3.7 .6 2 1 4 2 11 2.3 15 .8 4 .5 1.2 1.1 .8 2.9 .9 1 .1 2 .1 24.9-.2 9-.2 1-1 .2-.7 .1-1 .2-4 .7-25 .6-14 .6-11 .1-18 53.3 0 0 221-220.3 0z"/>
<path fill="#221150" d="M0 0l101.8 0 .9 2.2 2.2 3.8 1 2 .8 2.5 2 8.9 1.9 6.1 1.9 7.5 2.1 5.2 .9 2.8 .8 4 1.3 10.4 2 11.6 1.2 5 .4 1 .7 1 .7 .7 .6 .3 1.4 .5 2 .4 3 .2 25.9-.2 8-.3 1-.6 .6-1 .3-1 .1-1 .2-4 .6-25 .5-14 .6-11 0-18 52.9 0 0 221-220.3 0z"/>
<path fill="#29115a" d="M0 0l100.6 0 1.5 4 2.6 4.5 1 2.2 1 3.9 1 5.3 .7 3.1 2 6 1.6 6 1.8 5 .6 2 .9 5 1.1 9 .9 6 1.1 5 1.2 5 .5 1 .6 1 .9 1 1 .7 1 .4 2 .5 2 .3 2 .1 24.9-.1 6-.3 3-.2 1-.4 .8-1 .5-1 .2-1 .4-6 .9-38 .5-12 0-17 52.5 0 0 221-220.3 0z"/>
<path fill="#2d1161" d="M0 0l99.4 0 1.7 5 .9 2 2.6 5 .7 2 .4 1 2 9.9 5.2 17.1 .9 4 1.5 12 1 6 1 4 .9 3 .8 2 .6 1 .9 1 1.2 1 .9 .6 1 .3 2 .5 2 .3 2 .1 14.9 .1 11-.1 8-.5 1-.4 1-.9 .6-1 .5-1 .2-1 .2-1 .2-3 .4-15 .2-13 0-12 .5-13-.1-16 52.1 0 0 221-220.3 0z"/>
<path fill="#331067" d="M0 0l97.8 0 2.4 7 3.3 7 1.1 3 2.1 10 2.6 8 2.5 9 .8 4.7 1.6 12.3 1 5 .9 3 .8 2 1.7 3 1 1.2 1 .9 1.3 .9 1.7 .8 3 .7 3 .3 20.9 .2 7-.2 6-.6 1-.3 1-.7 1-1.2 .6-1 .7-2 .5-8 .4-17 0-7-.4-11 .4-14-.1-16 51.7 0 0 221-220.3 0z"/>
<path fill="#38106c" d="M0 0l96 0 .8 3 1 3 4.6 11 .9 3 1.8 8 .7 2 1.9 4.8 .9 3.2 1.3 5 .6 3 1.9 14 .9 5 .5 2 .8 2.7 1.3 2.3 2.4 3 1 1 1.3 1.1 2 1.1 2 .7 2 .5 3 .4 16.9 1 8 .3 2-.1 2-.4 5-1.3 2-.8 1-.9 1.3-1.6 .5-1 .5-2 .3-4 .2-6 .3-20-.1-3-.4-5-.2-4 .3-15-.2-16 51.3 0 0 221-220.3 0z"/>
<path fill="#3d0f71" d="M0 0l93.8 0 .6 3 1 3 1.6 4 2.6 6 1.1 2.8 2.1 8.2 .9 3 2.7 6 1 3 .8 3 .5 3 1.8 13 1 6 1.3 5 .8 1.8 .8 1.2 2.6 3 2.6 2.4 2 1.3 3 1.2 4 1 6 .7 16.9 2.6 4 .4 2-.1 1-.2 1-.5 3-1.8 3-1.6 2-2 1-1.4 1-2 .6-2 .2-9 .2-22-.1-2-.7-6-.2-3 .3-16-.3-15 50.8 0 0 221-220.3 0z"/>
<path fill="#440f76" d="M0 0l91.1 0 .4 3 .5 2 .6 2 1.3 3 3.5 7 .9 2 1.1 3 2 7 .7 2 3 6 1.2 3 .5 2 .5 3 1.5 12 1.2 7 .7 3 .7 2 1.1 2 1.1 1.6 3 3.4 2.4 2 2.6 1.7 3 1.3 3 .8 6 1.2 5 1.4 10.9 2.6 4 .6 4 .3 1-.1 2.1-.8 1.5-1 3.4-2.6 1-1 3.7-5.4 .9-2 .3-1 .1-1 0-3-.2-28-.1-2-.8-6-.2-3 .1-17-.3-14 50.3 0 0 221-220.3 0z"/>
<path fill="#491078" d="M0 0l87.8 0 .2 3 .3 2 .5 2 .9 2.5 2.4 4.5 3.6 5.5 1 1.8 1.1 2.7 2.8 8 1 2 2.2 4 .9 2 .6 2 .6 3 1.7 14 1.1 6 .6 2 .8 2 1.2 2 1.5 2 2.8 3.3 2 1.9 2.6 1.8 1.4 .8 2 .8 8.3 2.4 6.7 2.6 6.9 1.8 3 .7 3 .6 3 .3 3 .1 2-.2 2-.8 3.4-2.1 1.6-1.2 1.5-1.8 3.5-5.4 .7-1.6 .5-2 .2-2 0-3-.9-28-.2-3-.7-5-.2-3 0-18-.3-13 49.7 0 0 221-220.3 0z"/>
<path fill="#4e117b" d="M0 0l83.8 0 .2 4 .5 3 .8 3 1.2 3 1.1 2 .7 1 4.4 4.4 1.3 1.6 1.3 2 1.4 2.7 2.5 6.3 3.2 6 .9 2 .7 2 .6 3 1.7 14 .5 3 .8 3 .3 1 .9 2 1.4 2 1.5 2 2.9 3.5 2.5 2.5 1.3 1 1.2 .8 3 1.4 8.3 2.8 6.7 3.2 2 .7 2 .6 2.9 .7 4 .8 5 .6 4 .2 2-.2 2-.6 1-.4 4-2.2 1.8-1.4 1.7-2 2.7-4 .7-1.6 .6-2.4 .3-4-.2-6-1.4-26-1.1-10 0-19-.4-12 49.1 0 0 221-220.3 0z"/>
<path fill="#52137c" d="M0 0l79.7 0 .2 4 .5 4 .8 4 .9 3 .5 1 1.1 1.2 .9 .8 5.1 3.7 2 1.8 2 2.5 1.2 2 3.3 7 3.1 6 1.1 3 1 5 1.7 12 .8 4 .6 2 1.1 2 1.4 2 5.6 6.8 2.1 2.2 1.4 1 1.5 .8 3 1.4 5.1 1.8 2.4 1 6.5 3.7 2 .9 4.9 1.1 4 .6 5 .5 5 .2 2-.2 3.3-.8 3.7-1.6 2.3-1.4 1.2-1 .9-1 3.2-4 1.1-2 .2-1 .3-6-.1-5-2.1-28-1.1-10-.1-19-.4-12 48.4 0 0 221-220.3 0z"/>
<path fill="#57157e" d="M0 0l75.7 0 .2 4 .4 4 .8 5 .5 2 .3 1 .8 1.2 1.9 1.8 1.4 1 4.7 2.9 2.8 2.1 2.2 2.5 1.7 2.5 5.3 10.1 1 2.2 .9 2.7 1.1 4.2 2.2 12.8 .6 3 .7 2 1.1 2 1.5 2 6.6 8 2.1 2 1.6 1 3.5 1.7 5 2 2 .9 2.4 1.4 3.6 2.5 1 .6 2 .7 4 .8 4.9 .7 5 .5 5 .1 3-.1 3.8-.8 3.2-1 3-1.6 1.8-1.4 2.1-2.3 2.7-3.7 .5-1 .4-1 .1-2-.1-9-2.6-29-1.1-10-.3-19-.3-12 47.6 0 0 221-220.3 0z"/>
<path fill="#5d177f" d="M0 0l71.6 0 .2 4 .4 4 1 6 .6 2.2 .4 .8 .8 1 1 1 1.3 1 3.1 2 4.3 2.6 3 2.2 2 2.1 2 2.8 2 3.3 2.1 4 1.4 3 1.2 3 1.4 5 2.8 13 .6 2 .7 2 1.1 2 1.5 2 4.1 4.7 3.5 4.3 1.5 1.4 2 1.3 3 1.5 6.3 2.8 1.6 1 3.9 3 2.2 1.1 3 .9 6.6 1 6.3 .6 5 .1 4-.1 3.5-.6 3.9-1 2.4-1 1.2-.7 2-1.4 .9-.9 1-1.2 3-4.3 .7-1.5 .4-1 .1-1 0-2-.3-8-2.1-19-2-20-.8-31 46.9 0 0 221-220.3 0z"/>
<path fill="#621980" d="M0 0l68.2 0 .2 5 .7 6 .7 4.1 .2 .9 .8 1.6 1 1.4 .9 1 1.3 1 1.8 1.2 6.8 3.8 2.8 2 2.3 2.3 2.8 3.7 1.2 2 1.7 3 1.4 3 1.1 3 1.7 5 3.4 13 .7 2 .8 2 1.2 2 1.4 2 4.6 5.1 3.2 3.9 1.7 1.7 2 1.4 9.5 4.9 3.8 3 1.6 1 2.3 1 3.8 1 4.9 .6 7 .7 6 .2 3-.1 2-.2 5-.9 2-.5 2-.7 2.1-1.1 1.8-1.3 1-.9 1-1.2 3.1-4.6 .9-1.8 .4-1.2 .1-1 0-3-.3-7-2.5-20-1.9-19-.9-31 46 0 0 221-220.3 0z"/>
<path fill="#671b80" d="M0 0l65.5 0 .3 7 .8 7 .4 2 .3 1 1 2 1.5 2 1.1 1 1.3 1 1.7 1 5.8 3 3 2 3.3 3 1.7 1.9 1 1.3 2.3 3.8 2.1 5 2.1 6 3.2 11 1.1 3 .9 2 1.7 3 1.5 2 8 9 2 2 2 1.5 8 4.5 4 3 1.6 1 2 1 1.4 .5 3 .9 4 .7 8.9 .9 6 .2 5-.2 6-.9 4-1.1 3-1.3 1.9-1.4 2.2-2.3 3.2-5 .9-2 .3-1 .1-1 0-3-.4-7-2.8-22-1.7-16-.3-7-.7-25 45.1 0 0 221-220.3 0z"/>
<path fill="#6b1d81" d="M0 0l63.5 0 .3 8.3 .6 6.7 .4 2.2 1.1 2.8 .9 1.4 1 1.2 2 1.9 2.3 1.5 6.1 3 2.5 1.7 2 1.5 2 1.7 1.1 1.1 1.6 2 1.7 3 1.6 4 2.1 6 3.4 11 1.1 3 .9 2 1.1 2 1.6 2 7.2 8 2.9 3 2.6 2.2 6.2 3.8 5.6 4 3.6 2 2.4 1 3.2 1 4 .7 8.9 .9 7 .3 3-.1 3-.2 6-1 4-1.1 3.3-1.5 1.6-1.2 1-1 1.5-1.8 3.1-5 .9-2 .3-1 .1-1-.1-3-.5-8-1-9-2.2-15-1.2-13-.5-9-.7-23 44.2 0 0 221-220.3 0z"/>
<path fill="#701f81" d="M0 0l62.3 0 .2 8 .4 8 .8 4 1.1 2.7 1.7 2.3 2.3 2.1 3 1.9 6.9 3.3 2 1.2 2 1.4 1 1 1.9 2.1 1.2 2 .8 2 5.9 18 1.8 5 1.4 3 1 1.5 1 1.2 4 3.7 5.4 5.6 2.3 2 2.7 2 4.7 3 3.9 3 1.5 1 3.8 2 2.2 1 2.6 1 1.8 .5 3 .6 9.9 1.1 7 .4 6-.3 7-.9 2-.5 2.7-.9 3.2-1.4 .9-.6 1.2-1 2.6-3 3.1-5 .9-2 .2-1 .1-1-.1-3-.6-9-1.1-9-2.1-15-1.1-11-.6-11-.7-22 43.2 0 0 221-220.3 0z"/>
<path fill="#762181" d="M0 0l61.6 0 .1 10 .3 7 .8 5.5 1 2.7 1 1.7 1 1.2 1.9 1.9 1.1 .8 2 1 6 2.2 2.9 1.5 2.1 1.5 1.8 2 1 2 .3 1 2.2 9 1.2 4 3.4 8.3 1.8 4.7 1.1 2 1.1 1.4 1.7 1.6 4.3 3.1 4.3 3.9 2.4 2 7.4 5 4 3 3.3 2 2 1 5.5 2.3 2 .7 3 .7 3 .4 6.9 .7 4 .3 4 .2 6-.3 7-.9 4-1.1 3.9-1.6 2.3-1.4 1-1 1.8-2 1.5-2 1.8-3 .6-1.1 .7-1.9 .2-1 .1-2-.6-9-1.3-12-2.1-15-1-11-.7-13-.6-19 42.2 0 0 221-220.3 0z"/>
<path fill="#7b2382" d="M0 0l60.9 0 .2 10 .4 9 .4 4 .8 4 .3 1 .8 1.8 1 1.5 1 1 1 .7 2 1 5 1.5 3.6 1.5 2.3 1.4 .7 .6 .7 1 .5 1 .2 1 1.1 13 .4 3 .4 1.5 .7 1.5 .6 1 2.7 3.5 3 5.5 .7 1 .9 1 1.3 1 5.1 2.8 2 1.2 5.3 4 6.6 4.2 7.1 4.8 3.6 2 4.4 2 2.6 1 2.3 .7 4 .8 9.9 1.1 7 .4 6-.3 7-.9 4-1.1 2.9-1 1.5-.7 1.7-1 1.3-1 1.9-2 1.7-2 2.5-4 .5-1 .6-2 .2-2 0-2-.5-8-1.2-12-2.1-15-.8-10-.9-15-.6-18 41.1 0 0 221-220.3 0z"/>
<path fill="#802582" d="M0 0l60.4 0 .2 12 .3 8 .9 8.3 1 4.1 1 1.8 1 1 1 .7 2 .8 4 .9 2 .8 1.2 .6 1.4 1 .6 1 .1 1-.1 4-1 10-.2 4 0 1 .1 1 .6 1 2.2 2 3 2.2 2 1.6 4.1 4.2 2.9 2.3 2 1.1 7 3.5 10.9 6.4 7.5 4.7 5.5 3 6 2.5 3 .9 2 .5 4 .6 6.9 .7 4 .3 4 .1 6-.3 7-.8 2-.5 3-.9 1.9-.7 2-.9 2-1.2 1.6-1.3 2.8-3 1.6-2 1-1.8 1-2.1 .4-1.1 .3-2 .1-1-.3-8-1.1-12-2-16-.6-6-1.2-19-.7-19 40 0 0 221-220.3 0z"/>
<path fill="#842681" d="M0 0l59.8 0 .2 10 .3 10 .5 6.4 1 7 1 3.2 1 1.5 1 .8 1 .5 3.9 1.6 .7 1 .6 2 .3 2 .5 11 .3 4 .3 1 .4 .7 1 1.4 2 1.9 3.7 3 4.6 4 2.7 2 2.9 2 3 1.7 8 3.7 6 3 3.9 2.2 10 5.6 3.5 1.8 5.5 2.2 3 .9 2 .5 4 .6 6.9 .7 4 .3 4 .1 6-.3 7-.8 2-.5 3-.9 1.9-.7 2-.8 2-1.2 1.5-1.1 2.3-2 1.8-2 1.6-2 1-2 .8-2.1 .4-1.9 .2-2-.2-9-.9-11-1.9-16-.6-6-1.2-19-.8-19 38.9 0 0 221-220.3 0z"/>
<path fill="#892881" d="M0 0l59.3 0 .2 12 .3 9.5 .8 9.5 .8 5 .4 1.6 1 2.8 1 1.7 1.5 1.9 .6 1 .9 2 .6 2 1.4 8 .9 4 1 2 2.1 2.7 4.6 4.3 3.7 3 4.1 3 5.5 3.5 4.9 2.5 8.1 3.3 6.9 3.3 4 2.1 7 3.8 3 1.5 6 2.3 4 1 4 .6 5.9 .6 5 .3 4 .1 6-.3 7-.8 4-.9 2.9-1 2-.9 2-1.1 2.7-1.9 2.2-2 1.9-2 1.5-2 .9-2 .7-2 .4-2 .1-2 .1-7-.1-4-.7-9-1.9-16-.6-6-1.2-20.2-.8-17.8 37.7 0 0 221-220.3 0z"/>
<path fill="#902a81" d="M0 0l58.9 0 .2 15 .3 9 .5 7 .9 6.5 1 3.9 1 3.1 1.7 4.5 2.3 8.8 1 3.2 1 2 .7 1 2.3 2.8 3.1 3.2 3.6 3 5.5 4 6.2 4 4 2 9.5 3.5 6.9 3 4 1.9 7 3.9 3 1.4 5.9 2.3 4.1 1 4 .6 5.9 .5 5 .4 4 0 6-.3 7-.7 4-.9 2.9-1 2-.8 2-1.1 2.5-1.7 2.5-2 2.1-2 1.7-2 .6-1 1.1-3 .4-2 .4-3 .2-7-.1-5-.7-10-1.7-14.5-.5-5.5-.8-13-1.3-25 36.5 0 0 221-220.3 0z"/>
<path fill="#942c80" d="M0 0l58.5 0 .2 16 .3 9 .6 9 .2 2.5 .4 2.5 2.6 10.4 3.4 11.6 .6 1.3 1 1.7 2 2.6 2 2.4 3.3 3 4.6 3.6 6.3 4.4 3.7 2.3 3 1.5 3 1.1 8 2.6 6.9 2.7 4 1.9 7 4 4 1.8 3 1.2 2.8 .9 4.2 .8 9.9 1 8 .3 6-.2 7-.8 4-.8 3.9-1.3 3-1.6 2-1.2 3-2.2 2-1.7 2-2 1-1.3 .5-1 .5-1.5 .8-3.5 .6-7 .1-4-.1-6-.6-10-1.9-19-2.3-37 35.3 0 0 221-220.3 0z"/>
<path fill="#992d80" d="M0 0l58.1 0 .2 18 .3 11 .4 6 .8 6.2 3 12.8 2 6.5 1 2.4 1 1.8 1 1.5 2.3 2.8 3.2 3 4.9 4 6.5 4.8 3.7 2.2 3.3 1.6 3.9 1.4 9.1 2.7 5.9 2.2 4 2 7 4 4 1.8 5 1.8 4 .8 4 .5 5.9 .5 5 .3 4 .1 6-.3 7-.7 4-.7 3.9-1.3 2-.9 2-1.2 2.4-1.6 4.1-3 1.5-1.4 1.4-1.6 .7-1 .5-1 .5-2 .4-2 1-9 .1-4-.2-9-.6-11-1.8-21.2-.7-11.8-1.3-18 33.9 0 0 221-220.3 0z"/>
<path fill="#9e2f7f" d="M0 0l57.6 0 .6 29 .5 8 .6 5 .5 3 2 8.7 1 4 .7 2.3 1.2 3 1.1 2.1 1.2 1.9 1.5 2 3.2 3 6.1 5.1 5.1 3.9 3.8 2.4 3.4 1.6 2.6 1 3 1 9 2.4 5.9 2.2 4 2 7 4.1 3 1.4 5.5 1.9 4.5 1 4 .5 6.9 .5 8 .3 6-.3 8-.8 4-.8 1.9-.6 2-.8 2-1 2-1.2 6.7-4.8 1.3-1.2 1.6-1.8 .6-1 .4-1 .5-2 .5-3 .8-7 .2-3-.3-24-.3-8-1.6-22-2-19 32.5 0 0 221-220.3 0z"/>
<path fill="#a3307e" d="M0 0l57.2 0 .5 30 .4 6 .7 7.1 1 5.2 2 8.8 1 3.6 1 2.5 1.4 2.8 1.2 2 1.4 1.7 3.5 3.3 7.4 6.3 3.7 2.7 3.3 2 4 1.8 3.3 1.2 10.7 2.8 6 2.1 4.3 2.1 6.7 4 3.9 1.8 5 1.7 3 .8 2 .3 4 .5 6.9 .5 8 .3 6-.3 8-.8 4-.8 3.9-1.2 2-1 2-1.2 5.3-3.6 2.7-2 1.1-1 1.6-2 .6-1 .4-1 .5-2 .5-3 .9-9 .8-27 0-6-.1-4-1.6-21-.4-3-2.3-13 30.9 0 0 221-220.3 0z"/>
<path fill="#aa337d" d="M.8 0l56 0 .5 31 .5 7 .8 7 1.2 6.5 2.3 9.5 .7 2.1 1.4 2.9 1.1 2 1.5 2.1 3 2.9 7 6.1 2.3 1.9 2.6 1.8 2 1.2 4.1 2 2.8 1 3.4 1 9.7 2.5 4.4 1.5 2.4 1 2 1 6.1 3.7 3 1.6 3 1.2 5 1.7 4 .9 4 .5 8.9 .6 7 .2 6-.2 8-.8 5-1 1.9-.6 2-.7 2-1.1 2-1.2 5.6-3.8 2.7-2 1-1 1.6-2 .9-2 .8-4 .8-7 1.2-18 1.5-14 .1-4-.1-5-.6-12-.3-5-.4-4-.7-3-2.1-7.1-1.2-4.9 29.1 0 0 221-220.3 0 0-209z"/>
<path fill="#ae347b" d="M1.6 0l54.8 0 .4 31 .5 7 .9 8 .8 5 2.1 9 .7 2.7 1 2.5 1.4 2.8 1.4 2 1.2 1.4 10.7 9.6 2.7 2 3.4 2 2.1 1 2.7 1 6.9 2 7.4 1.9 6 2.1 2.3 1 1.6 .9 7 4.1 4 1.9 6 2 3 .6 2 .4 4 .4 6.9 .4 8 .3 6-.2 8-.8 5-.9 3.4-1.1 2.2-1 1.8-1 8.8-6 1.3-1 .9-1 1.5-2 .9-2 .6-3 .8-6 .8-9 .9-7.3 1-5.7 1.8-8 .7-4 .2-2 .2-9 0-6-.2-5-.4-5-.5-4-.7-2-3.5-7-1.8-5 27.1 0 0 221-220.3 0 0-191 1-20z"/>
<path fill="#b3367a" d="M2.5 0l53.5 0 .4 32 .4 6.4 .8 7.6 1.2 7 2 8.8 .6 2.2 .8 2 1.6 2.9 1 1.5 1.4 1.6 9.7 9 2.7 2 3.2 2 2 1 3.9 1.5 14 3.8 5 1.7 4.4 2 8.5 4.8 4 1.8 6 1.9 3 .7 2 .3 10.9 .8 8 .3 6-.3 8-.7 5-.9 1.9-.5 2-.7 2-.9 2-1.1 9.6-6.5 1.2-1 1-1 1.2-1.7 .7-1.3 .3-1 .5-2 2.2-16 1.3-6.8 1.7-6.2 3-9 1.1-4 1.1-8 .4-5-.1-11-.3-5-.1-1-.5-1-.7-1-5.6-6.6-2-3.2-1.1-2.2 25 0 0 221-220.3 0 0-169.2 1-3.8 .6-5 0-3-.4-8 0-5 .6-16z"/>
<path fill="#b83779" d="M3.5 0l52.1 0 .4 33 .5 7 .7 7 1.2 7 1.8 8 .8 3 .8 2 1 2 1.4 2 1.6 1.9 7 6.6 2.9 2.5 2.7 2 3.3 1.9 2.6 1.1 3 1 14.3 4 3 1 5.1 2.2 8.7 4.8 4.4 2 5.8 1.9 5 1.1 4 .4 6.9 .5 9 .3 6-.3 8-.7 5-.8 3.9-1.2 2-.8 2.6-1.4 8.8-6 2.7-2 .9-1 .7-1 1-2 .6-2 2.7-14.7 1-4.4 1-3.9 1.1-3 1.9-4.4 1.9-3.7 4.1-6.9 1.1-2 1.3-4 1.3-5 .6-3 .1-2 .2-15-.2-1-.6-1-.9-1-1.3-1-5.7-3.4-2.9-2.4-3-3.1-1.5-2.1 22.4 0 0 221-220.3 0 0-163.1 1.4-2.9 1.1-3 .7-4 .4-4 .1-4-.9-5-.3-5 .2-18 .3-5.5z"/>
<path fill="#bd3977" d="M4.7 0l50.4 0 .5 32 .2 6.1 .5 5.9 1.3 9 2.4 11 .6 2 .7 2 1.8 3 1.6 2 1.1 1.2 7.3 6.8 3.8 3 3.3 2 2.5 1.1 3 1.1 8 2.2 8.5 2.6 2.6 1 4.9 2.3 7.1 3.7 4.2 2 2.6 1 3 .9 5 1.3 2 .4 4 .4 11.9 .7 6 0 7-.4 8-.9 4.9-1.1 2-.7 2-.9 2-1 2-1.3 9.1-6.4 1.2-1 .7-.8 1-1.5 .8-1.7 .4-1 1.9-9 2.9-10.5 1-2.8 1-2.3 1-1.9 1.9-3.2 1.7-2.3 1.3-1.6 3-3 2-1.6 3-2.2 2-1.1 1-.4 0 174.9-220.3 0 0-160.6 2.1-1.4 .9-1 .4-1 .8-2 .8-3 .5-3 .3-3 .2-4-.1-2-1.5-6-.3-2-.2-2 0-18 .1-4zM201 0l19.3 0 0 9.4-11-3.7-2-.7-1-.6-1.9-1.2-2-1.8z"/>
<path fill="#c43c75" d="M6.4 0l48.3 0 .5 34 .2 6 .4 4 .6 5 .8 5 2.1 10 .8 3 .7 1.9 1 1.8 .9 1.3 2.6 3 6.5 6 3.6 3 3.3 2.1 2 .9 3 1.2 9.8 2.8 8.7 3 7.5 3.3 9.9 4.8 4 1.6 6 1.7 3 .6 2 .3 7.9 .6 9 .5 7-.2 9-.8 3-.4 2.9-.6 3-.8 1.9-.6 2.1-.9 2-1.1 2-1.3 3.6-2.7 5.8-4 1.1-1 .8-1 1.1-2 .8-2 2.2-8 3.6-10.3 1-2.2 .9-1.8 1.8-2.7 1.2-1.7 3-3.2 3-2.4 3-1.6 2-.7 1-.2 0 167.8-220.3 0 0-158.9 3.9-2.1 1.4-1 .8-1 1.1-4 .8-5 .3-5 0-4-.6-2-1.2-4-.5-2-.2-2-.3-6-.1-7 0-5 .4-6zM204.6 0l15.7 0 0 4.6-5-.8-6-1.4-2-.6-1-.6z"/>
<path fill="#c83e73" d="M8.4 0l45.7 0 .7 35 .2 6 .3 4 1.1 8 2.1 11 1.5 5 .8 1.8 1 1.6 1.3 1.6 1.9 2 6.5 6 3.9 3 3.3 1.9 2.5 1.1 2.5 .9 10.6 3.1 7.5 3 8.8 3.8 9.3 4.2 3.7 1.3 4 1.2 5 1.2 5 .5 11.9 .7 4 .1 4-.1 7-.6 8-1 2.9-.7 2.2-.6 2.6-1 2.1-1 3.1-1.9 3.9-3.1 5.1-3.5 1.7-1.5 .7-1 1.1-2 2.8-8 3.7-8.5 1.9-3.9 2-3.3 1.8-2.3 1.2-1.3 1-.9 2-1.5 3-1.6 1-.3 2-.5 0 163.1-220.3 0 0-157.1 5.5-2.9 1.7-1 1.4-1 .7-1 .9-5 .5-7 .1-5-.1-1-.5-2-1.5-4-.7-3-.6-10-.1-6 .1-4 .4-6zM212.9 0l7.4 0 0 .7-3-.1z"/>
<path fill="#cd4071" d="M11.2 0l42.2 0 .4 15 .5 23 .4 7 .7 6 2.4 13 1 3.9 .7 2.1 .9 2 .7 1 2.5 3 6.6 6 3.8 3 3.8 2.2 1.9 1 3 1.1 10 3 1.9 .7 8.1 3.7 7.9 3.1 7.5 3.2 3.5 1.3 4 1.3 5 1.3 4 .7 11.9 .8 5 .2 4 0 8-.6 9-1.1 4.9-1.1 2.3-.8 2.4-1 1.9-1 1.6-1 5-4 4.4-3 2.2-2 .8-1 1-2 1.9-5 1.5-3.2 4.9-8.8 3-4.7 2-2.3 1-1 2-1.5 2-1 2-.7 1-.1 0 159.3-220.3 0 0-154.8 1.5-1.2 1.5-1 7.6-4 1.3-1 .7-1 .2-1 .5-4 .4-4 .3-8-.4-2-2.4-6-.5-2-.6-6-.3-6 0-5 .2-4.2 .5-4.8z"/>
<path fill="#d2426f" d="M15.9 0l36.6 0 .4 11 .7 29 .4 6 1 7 2.3 12 1.5 5.6 1 2.2 .8 1.2 1.2 1.5 1.4 1.5 6.8 6 3.8 2.8 3 1.8 1.9 .9 3 1.2 7.8 2.3 2.7 1 2.2 1 4.3 2.3 3 1.3 8.9 3.2 8.2 3.2 4.8 1.7 6 1.6 3 .7 2 .2 11.9 .8 8 .2 7-.4 10-1 4.9-1.1 3-.8 2.4-.9 2.6-1.2 2-1.3 5.5-4.5 4.3-3 2.2-2 1.3-2 2.1-5 1.6-3 1.9-3 6-8.5 2-2.4 2.4-2.1 1.6-1 1-.4 2-.5 0 155.9-220.3 0 0-151.6 2.4-2.4 2.4-2 1.6-1 6-3 1.7-1 1.2-1 .7-1 1.7-7 1.2-6 .2-3-.1-2-.6-2-2.4-5-.7-2-.7-6-.4-7-.1-4 .3-4 .6-4.6z"/>
<path fill="#d6456c" d="M22.7 0l28.5 0 .6 9.7 .9 29.3 .4 6 .9 7 2.2 12 1.5 6 1.1 3 1.2 2 .9 1 2.1 2 4.5 4 2.5 2 2.7 2 2.1 1.3 2 1.1 2.9 1.3 9.9 3.3 2.1 .9 6 3.3 2 1 2.2 .8 8.7 2.7 9 3.3 4 1.3 6 1.7 3 .6 2 .3 12.9 .8 5 .1 4 0 6-.4 8-.9 3.3-.5 3.6-.8 5-1.6 2-.8 2-1.1 2-1.5 3.6-3.2 4.4-3.2 2.2-1.8 .9-1 .8-1 3.1-6.2 1.8-2.8 7.1-8.9 2-2.1 2-1.7 2-1.2 2-.7 0 152.6-220.3 0 0-148.8 1.5-1.2 4.2-4 2.5-2 1.7-1 6-3 1.6-1 1.2-1 .8-1 3-7 1.4-3.8 .8-3.2 .2-3-.2-2-1.6-6-.5-3-.3-9-.1-7z"/>
<path fill="#dc4869" d="M27.5 0l20.9 0 .4 2.4 .8 5.6 .8 8 .4 6 .8 18 .7 7 1 6 3.1 16 .9 3 .9 2 .5 1 .8 1 1 1 5.6 5 3.9 3 3.8 2.6 3 1.7 1.9 .9 10.5 3.8 2.5 1.3 5 2.9 3 1.3 4 1.2 7.9 2.2 9 3.1 4 1.3 6 1.5 4 .7 12.9 .8 5 .1 4 0 6-.4 8-.8 2.9-.5 3.6-.7 3.8-1 2.6-.9 2-.8 2-1.1 2-1.5 4-3.7 5.3-4 2.1-2 .7-1 3.4-6 1.4-2.1 2-2.3 6-6.3 1.4-1.3 1.6-1.2 1-.7 2-.8 0 149.7-220.3 0 0-146.9 2-1.1 1.4-1 5.7-5 2.7-2 7.7-4 1.5-1 1.3-1 .8-1 1.8-3.2 1.4-2.8 .8-2 1.3-4 .3-2 .2-2 0-3-.8-8 .2-4 .6-4 1.4-6 .2-2-.3-3-1.9-8z"/>
<path fill="#e04c67" d="M31.6 0l10.8 0-.4 2-.9 2-.2 .3-1 .7-1 .2-2-.3-1-.3-1-.5-1-.8-1-1.2zM44.2 16l.7-.7 1-.3 1 1.7 .9 4.8 .3 2.5 .7 7 .5 8 .3 3 .4 2 1.8 7.1 3.9 18.9 .9 3 .9 2 .8 1 .9 1 5.6 5 5 3.9 4 2.6 4 2.1 8.4 3.4 2.2 1 7.3 4.1 2 .9 2 .8 11.9 2.9 11 3.6 5 1.4 4 1 3 .4 4 .3 8.9 .5 5 .1 4 0 6-.4 8-.8 2.9-.4 4-.8 4-1 4-1.4 2.6-1.2 2.4-1.8 4.5-4.2 5.1-4 2.1-2 1.5-2 2.7-4.6 1.1-1.4 1.9-2.1 7-6.4 2-1.5 2-1.1 0 147.1-220.3 0 0-145.6 3.4-1.4 1.8-1 2.7-2 4.1-3.4 2.1-1.6 1.5-1 7.6-4 1.4-1 1.2-1 .9-1 2.2-4 1.6-3 1.6-4 .9-3 .4-3 .3-11 .4-2 .8-1.7 1-1.1 3.8-3.2 2.9-3 .3-.4 1-2.2z"/>
<path fill="#e44f64" d="M43.6 46l1.3-.3 1-.1 1 .6 .9 1.5 3 6 1 3 1.6 6.3 1.8 9 1.2 3 1.6 2 1.8 1.8 4 3.5 4 3.1 4 2.8 4 2.4 2 1 7.6 3.4 9.5 5 2.1 1 3.1 1 11.5 2.4 13 4.1 4 1.1 4 .9 6 .6 9.9 .5 6 .1 5-.2 10-.9 3.9-.6 6-1.2 3.2-.8 3.3-1 2.5-1.1 1.5-.9 1.5-1.1 4.9-4.9 5-4 2.2-2 1.7-2 2.6-4 1.5-1.8 1-1 6-5 2-1.4 2-1.3 0 144.5-220.3 0 0-144.4 5-1.9 1.6-.7 1.8-1 2.9-2 5.6-4.3 2.8-1.7 5.2-2.9 1.7-1.1 2.6-2 .9-1 3.8-5.3 1-1.1 1-1 4-2.9 2-1.1z"/>
<path fill="#e85362" d="M45.4 53l.5 0 1 .3 .9 .9 1 1.3 2 3.6 1 2.4 .7 2.5 .3 1.2 1.2 6.8 .6 2 .5 1 .8 1 1.8 2 4.3 4 3.8 3 6 4.2 3 1.9 3 1.6 12.5 6.3 6.4 3 3.5 1 11.4 2.1 4 1.1 11 3.5 4 1 3 .6 5 .4 10.9 .6 6 0 5-.2 9-.9 4.9-.7 7.2-1.5 3.8-1 2-.7 2.9-1.3 1.5-1 1.2-1 4.8-5 7.3-6 1.8-2 2.4-3.4 2-2 5-3.9 4-2.5 0 141.8-220.3 0 0-143.2 7.6-2.8 2.4-1 3-1.8 5.9-4.2 7-4.4 7.1-4.6 2.9-2.2 1-.6 3-1.6 2-.9 2-.5z"/>
<path fill="#eb5760" d="M44.6 58l1.3-.1 1 .3 .9 .7 1 .9 1 1.3 .5 .9 .5 1.1 .6 1.9 .4 2 .5 4 .5 2 .3 1 .6 1 .9 1 4.9 5 3.5 3 7.8 5.6 5 3.2 4.9 2.8 6.7 3.4 6.8 3 2.6 1 3.9 .9 10.9 1.9 4 1.1 11 3.5 4 1 3 .5 5 .5 10.9 .6 5 0 6-.2 10-1 3.9-.6 7-1.5 6.6-1.7 2.5-1 1.8-1 1.4-1 1.7-1.6 3.9-4.4 2.4-2 3.9-3 2.3-2 2.5-3 2-2 1.9-1.6 2-1.3 4-2.2 0 139.1-220.3 0 0-141.6 3-1.4 8-3 2.3-1 11.3-7 5.3-3.9 3-1.7 2-.8 7-2.1z"/>
<path fill="#ef5d5e" d="M43.1 61l2.8-.2 1 .2 .9 .6 1 1.1 .8 1.3 .3 1 .8 6 .7 3 .6 1 2.8 2.6 4 4.1 2.7 2.3 3.3 2.5 9 6.4 4.9 3.1 3.8 2 4.1 2 5 2 5.1 1.8 3 .7 9 1.3 2.9 .6 4 1.1 8 2.6 4 1.2 4 1 2 .3 6 .6 9.9 .5 6 0 5-.2 10-1 3.9-.6 10-2.2 5-1.3 3-1.2 2-1.2 2.2-2 4.4-5 2.3-2 5.4-4 5.3-5 1.3-1 2-1.3 3-1.4 0 136.7-220.3 0 0-139.9 6.6-3.1 6.4-2.4 3.6-1.6 9-5 1.4-1 3.9-3.2 1.2-.8 1.8-.9 2-.7 5-1z"/>
<path fill="#f2625d" d="M39.7 64l3.2-.5 3-.3 1 .3 .5 .5 .6 1 .4 2 .8 6 .4 1 .7 1 1 1 2.5 2 5 5 3 2.5 12 8.7 4 2.6 2.9 1.7 5.4 2.5 2.6 1 8 2.6 3 .7 9 1.2 2.9 .5 3.6 1 11.4 3.7 4 1.1 3 .6 5 .5 10.9 .5 6 .1 6-.4 8-.8 4.9-.7 10-2.1 5.6-1.5 3.4-1.2 1.5-.8 1.5-1 2.1-2 3.2-4 2.1-2 6.9-5 3.6-3.1 2-1.5 2-1.1 2-.8 0 134.5-220.3 0 0-138.1 10.3-4.9 7.4-3 8.2-3.6 2.5-1.4 4.5-3.5 2-1.2 1-.4z"/>
<path fill="#f4675c" d="M37.5 69l3.4-.6 2-.1 1 0 1 .3 1 1.1 1.6 4.3 .9 1 4.9 4 5.5 5.4 2 1.6 6.9 5 6.1 4.7 3.5 2.3 3.7 2 4.8 2 10.9 3.4 3 .6 10 1.3 2.9 .6 3.6 1.1 7.4 2.6 4 1.2 4 1 3 .5 7.9 .6 9 .3 6-.1 6-.4 7-.7 4.9-.8 11-2.5 5-1.3 3.9-1.4 2.1-1.2 1.1-.8 1.1-1 4-5 2.1-2 2.6-2 4.6-3 3.9-3 1.5-.9 2-.9 0 132.8-220.3 0 0-136.1 9.7-4.9 6.5-3 4.7-1.8 6.7-2.2 7.3-3.4z"/>
<path fill="#f66c5c" d="M31.4 74l2.5-.6 3-.1 5 .3 2 .4 1 .3 2 1.2 3.3 2.5 3.6 3.1 5.3 4.9 8 6 5.7 4.5 2.1 1.5 2.9 1.7 2.7 1.3 2.2 .9 3.3 1.1 10.7 3.1 3 .6 9 1.2 2.9 .5 4 1.1 8 2.9 5 1.5 4 .9 4 .5 8.9 .5 8 .2 6-.2 8-.7 5-.5 4.9-.9 9-2.2 7-1.9 4.3-1.6 1.8-1 1.2-1 1.1-1 3.8-5 .9-1 1.1-1 1.7-1.2 4.5-2.8 4.5-3.1 2-1.1 0 131.2-220.3 0 0-134.1 16.9-8.7 2-.9 4-1.3z"/>
<path fill="#f7725c" d="M30.4 76l3.5-.5 4 0 6 .5 1 .2 1 .5 1.9 1.1 1 .8 5 4.1 5 4.5 7.7 5.8 5.3 4.3 2 1.4 2.2 1.3 4.2 2 4.5 1.5 13 3.6 3 .5 8 1 2.9 .5 4 1.2 9 3.3 3 .9 4 1 4 .5 9.9 .6 8 .1 7-.2 8-.7 4.9-.6 5-.9 7-1.7 8-2.2 5-1.6 2-.8 1.6-1 1.2-1 1-1 2.8-4 1.6-2 1.7-1.3 10-6.2 0 129.5-220.3 0 0-131.9 3.7-2.1 8.3-4.2 5-2.8 2.9-1.4 3-1.1z"/>
<path fill="#f9795d" d="M28.5 78l4.4-.6 4-.2 4 .2 3 .3 1 .3 1 .4 1.9 1.3 2 1.5 4 3.2 5 4.3 6 4.5 7 5.6 3.7 2.2 2.1 1 2.6 1 3.5 1.1 14 3.7 11 1.6 3.1 .6 3.8 1.1 9 3.4 3 1 4 .9 3 .4 7.9 .4 8 .3 5 0 6-.2 8-.7 4.9-.6 5-.9 6-1.5 15.4-4.6 2.5-1 1.5-1 1.1-1 .8-1 2.6-4 .9-1 1-1 3.1-2 6-3.5 0 127.5-220.3 0 0-129.6 4-2.4 9-4.7 6.9-3.9 3-1.1z"/>
<path fill="#fa7f5e" d="M27.7 80l4.2-.7 4-.3 5 .3 3 .4 1 .3 2 .9 2.9 2.1 4 3.1 5 4.1 12 9.3 2.4 1.5 3.6 1.7 4.9 1.7 15 3.9 3 .6 9 1.3 2.9 .6 4.1 1.2 7.9 3.2 3 1 4 .9 4 .5 7 .4 7.9 .3 6 0 5-.2 7-.5 5.9-.6 5-.8 5-1.1 3-.8 7-2.3 11-3 2.1-1 1.3-1 .9-1 2.8-4 1.7-2 1.2-1 1.6-1 4.3-2.3 0 125.3-220.3 0 0-127.3 5.9-3.7 7.7-4 6.3-3.5 3-1.3z"/>
<path fill="#fb8560" d="M32.4 81l3.5-.2 4 .2 4 .6 2 .7 1.9 1.2 5 3.6 6 4.8 10.8 8.1 3.2 2 2.1 1 2.5 1 4.3 1.3 8 1.9 7 1.9 11.7 1.9 3.2 .7 4.2 1.3 5.8 2.5 3 1.2 4 1 5 .7 6 .4 8.9 .3 6 .1 5-.2 7-.4 6.9-.7 5-.7 5-1 5-1.4 5-1.8 3.1-1 8.3-2 3.3-1 1.7-1 1.2-1 .9-1 2.9-4 1.5-1.5 2-1.4 2-1 0 122.9-220.3 0 0-125.1 8-5 12.9-6.9 2-.8 4-1.1 3-.7z"/>
<path fill="#fc8a62" d="M31.1 83l3.8-.4 3 0 5 .7 2 .6 1 .4 1.9 1.1 3 2.1 7.3 5.5 8.1 6 2.9 2 3.7 2.1 4 1.7 4.9 1.4 15 3.6 13.9 2.5 2.5 .7 1.5 .6 6 2.8 3 1.1 4 1.1 5 .7 6 .4 7.9 .3 7 .1 5-.1 6-.3 7-.6 5.9-.7 5-.8 4-1 3-.9 7.1-2.7 1.9-.6 3-.7 6.9-1.5 3.6-1.2 1.4-1 1.2-1 3.5-4 1.1-1 1.2-.8 0 119.8-220.3 0 0-123.1 9.6-5.9 10.3-5.5 2-.9 2-.7 4-1.2z"/>
<path fill="#fc9065" d="M30.5 85l3.4-.6 2-.1 2 .1 5 .9 2 .5 1 .4 1.9 1.1 2 1.4 7.3 5.3 10 7 4.7 2.8 4 1.6 2.9 1 3 .7 15 3.3 8.4 1.6 4.6 1 3 1 6.9 3.3 3 1.2 4 1 4 .6 4 .3 8.9 .4 8 .2 6-.1 6-.2 6-.4 6.9-.7 5-.7 4-.8 4-1.1 3-1 4.8-2 2.9-1 9.8-2 3.6-1 2.2-1 1.5-1 3.1-2.6 0 115.6-220.3 0 0-121 4-2.3 7.5-4.7 7.4-4.2 2-1 2-.7z"/>
<path fill="#fd9869" d="M30.3 87l3.6-.6 3-.1 4 .5 4 1 2 .9 1.9 1.2 7.2 5.1 10.6 7 4.2 2.4 3 1.4 3 1.1 2.9 .8 13 2.5 8.8 1.8 4.2 1 6.2 2 6.7 3.4 3 1.1 3 .9 4 .6 5 .4 8 .4 7.9 .1 7 0 6-.2 6-.3 11.9-1.1 4-.7 5-1.2 5-1.7 6.7-2.7 3.3-.8 6.9-1.4 3.5-.8 3-1 2.5-1.2 0 112.2-220.3 0 0-118.8 6-3.5 10.9-7 3-1.7 3-1.2z"/>
<path fill="#fe9d6c" d="M30.1 89l3.8-.6 3-.1 4 .4 3 .6 2 .8 1.9 1.2 7 4.7 10 6.3 5 2.9 3 1.4 3 1.1 2.9 .8 13 2.1 10.8 2.4 3.1 1 4.9 2 6.1 3.1 3 1.3 3 .8 4.5 .8 5.5 .4 8 .3 14.9 .2 13-.5 12.9-1 4-.6 5-1.2 4-1.2 9-3.4 3.5-1 8.4-1.8 5-1.3 0 110.1-220.3 0 0-116.4 4.6-2.6 4.4-2.7 5-3.4 4-2.9 1.9-1.2 1.8-.8 1.2-.4z"/>
<path fill="#fea36f" d="M30.2 91l4.7-.6 3 0 3 .2 3 .7 3 1.4 6.8 4.3 5.1 2.9 5 3.3 4 2.4 2.6 1.4 2.4 1 2 .6 3 .7 12.9 1.8 4 .7 4.9 1.2 3.2 1 2.3 1 8.5 4.7 3 1.3 4 1.2 5 .7 4 .3 10 .4 15.9 .2 13-.4 13.9-.9 5-.7 5-1.1 4-1.1 6-2.2 7.6-2.4 3.6-1 6.7-1.4 0 108.4-220.3 0 0-113.8 7-4 3-1.9 4-2.8 4.9-4 2-1.3 1-.4 2-.7z"/>
<path fill="#fea973" d="M31.3 93l4.6-.5 3 0 3 .2 2 .6 2 .9 10.9 6.1 8.8 5.7 5.2 2.6 2 .7 3 .7 13.9 1.6 3 .5 4 .9 3.3 1 2.5 1 1.7 1 4.5 3.3 1 .6 2.9 1.4 2 .8 3 .8 3 .5 3 .4 5 .4 8 .3 17.9 .2 13-.2 15.9-.9 7-.8 6-1.2 9.9-2.9 8.2-2.7 3.5-1 2.3-.5 0 106.5-220.3 0 0-110.7 13-8.1 2.9-2.4 4-3.4 2-1.4 2-.8z"/>
<path fill="#feae77" d="M34.3 95l5.6-.3 2 .2 2 .6 5.9 2.6 3.7 1.9 3.4 2 4.1 3 2.8 1.8 4 2.1 3 1.2 2 .6 3 .5 8.9 .6 5 .5 3.9 .7 3.1 .8 3.2 1.2 1.8 1 1.4 1 1.1 1 2.5 2.5 1 .7 1.3 .8 2.8 1 2.8 .7 6 1 5 .4 4 .3 11 .3 9.9 .1 16-.2 17.9-.7 10-1 4-.6 5-1 4.9-1.3 9-2.8 3-.8 0 52.1-220.3-.5 0-55.1 4-2.3 4.8-3.6 5.2-3.5 3.3-2.5 3.6-3.2 2-1.4 1-.5 3.6-.9 3.4-.6zM7 123.8l-1 .4-1 .8 .1 1 1.4 1 2.5 .7 3 .4 1.6-.1 1.4-.2 1.8-.8 .6-1-.8-1-1.6-.8-1-.3-2-.3-2-.1zM0 187l0-.6 220.3 0 0 34.6-220.3 0z"/>
<path fill="#feb67c" d="M30.1 98l3.8-.6 5-.2 3 .2 3 .7 3.9 1.4 3 1.4 1.8 1.1 4.1 3 3.1 2 4 2.2 5 2.3 2 .5 2 .3 9.9 .3 4 .3 3 .4 3.4 .7 3 1 2.1 1 1.4 1 1.1 1 2 2.5 1 1.1 1.8 1.4 1.2 .6 1 .4 1.9 .5 7 1.2 5 .5 5 .4 17.9 .4 18 0 18.9-.5 14-.8 9.9-1.1 3-.4 4-.8 7-2.1 0 44-152.5-.5-20.9-.4-21-1-6-.2-7.9 .2-12 .5 0-29.5 7 3.3 1 .2 3 .5 4 .5 6.9 .3 4-.1 3-.3 3-.4 3-.6 2.8-.8 2.2-1 1.2-1 .5-1-.5-1-1.5-1-6.7-2.4-2-1-2-1.4-2.5-2.2-1.5-1-2-1.1-3-1.1-4-1-9.8-1.8-1.3-1 .1-1 .8-1 4.3-3.5 4-4.5 2.9-2.6 7-5 3-1.4zM0 189l0-1 220.3 0 0 33-220.3 0z"/>
<path fill="#febb81" d="M32.9 100l3-.3 5 .2 3 .5 3.9 1 1 .4 1 .6 5 3.6 4 2.4 6 3.3 2 .9 3 1.2 2 .3 1 0 7.9-.5 4 0 4.3 .4 4.5 1 2.7 1 1.7 1 1.1 1 2.8 4 .9 1 2 1.5 2 1 2 .7 6.9 1.2 9 1.2 4.1 .4 3.9 .7 4 .4 5.9 .4 7 .1 14-.3 26.7-1.3 17.1-.5 6-.3 7-.7 0 33.2-68.6-.7-31.1-.4-33.7-.6-12.1-.5-6.6-.5-6.4-1-5-1.1-11.9-3.2-5-1.2-10-1.9-4-.6-1-.4-1.9-.6 6.2-1 22.6-2.7 6-.9 3-.7 1.5-.7 1.5-1.3 .4-.7 .6-1.3 .5-2.7 .1-1-.2-1-.4-1-.7-1-1.3-1.3-2-1.5-1-.5-4-1.4-6-1.7-4.9-.9-7-.9-4-1-3-1-9.6-3.8-1.8-1-.6-.5-.4-.5-.4-1-.3-1-.2-2 0-2 .4-1 .8-1 1.1-1 2-1.5 7-4 2-.9zM0 146l0-.2 1.1 .2 5.9 1.2 5.9 .8-1.9 .6-.9 .4-3.1 .4-7 1.2zM0 190l0-1 220.3 0 0 32-220.3 0z"/>
<path fill="#fec185" d="M35.4 103l3.5 0 3 .3 3 .8 2.9 1.1 1.4 .8 1.3 1 2.2 2 .9 1 .5 1 0 1-.4 1-.6 1-1 1-2.3 1.3-2 .8-1.9 .5-4 .7-2 .2-2 0-3-.4-3-.7-2-.7-2-1-2.4-1.7-1-1-.6-1-.3-1 0-1 .5-1 .9-1 1.3-1 3.6-2.2 3-1.3zM80.8 115l2.9-.2 3 .2 4.6 1 2.4 1 1.6 1 .4 .4 3.2 4.6 1.8 2 2 2 .8 1 .2 1-.3 1-.6 1-1.1 1-2 1.2-3.6 1.8-1.5 1-.6 1-.9 2-1 2-1.4 1.8-1 1-1 .7-1 .5-2 .6-1 .2-2-.1-2-.3-1-.3-1-.5-1.9-1.2-2-1.9-1-1.3-.6-1.2-.4-1.2-.5-2.8-.3-1-3.3-6-.8-2-.2-1 .4-2 .7-1.4 1-1.1 .7-.5 4.3-2.4 2.2-1.6 1.7-.6zM0 191l0-1 220.3 0 0 31-220.3 0z"/>
<path fill="#fec68a" d="M35.5 106l2.4-.2 2 .1 2 .4 2.1 .7 1.6 1 1 1 .5 1 .2 1-.3 1-.8 1-1.3 1-2.5 1-2.5 .5-2 .1-2-.2-2-.5-2-.9-1.4-1-.8-1-.4-1 .1-1 .5-1 1-1 1-.7 2-.9zM81.5 118l1.2-.4 1-.2 1 0 1 .1 2 .6 2 1 3 2.3 2.5 2.6 1.4 2 .4 1 .3 1 0 1-.6 1.1-1 .9-2.9 2-1.2 1-1.8 2-1.1 1.7-1.1 1.3-1.2 1-.7 .3-1 .4-1 0-1-.1-1-.3-1-.4-1-.7-1-1.1-.7-1.1-1.1-2-3-5-.8-2-.1-1 0-1 .3-1 .6-1 .8-1 1.1-1.1 2-1.7 1.9-1.3zM0 192l0-.9 220.3 0 0 29.9-220.3 0z"/>
<path fill="#fecc8f" d="M36.4 109l1.5-.2 1 0 1.2 .2 .8 .4 .7 .6 .3 1-.8 1-1.2 .5-1 .2-1 0-1-.1-1-.4-.5-.2-.8-1 .2-1 1.1-.8zM83 121l1.7-.1 2 .5 2 .9 1 .6 1.2 1.1 .9 1 .6 1 .3 1 .2 1-.1 1-.6 1-.9 1-1.6 1.4-2 1.7-2 1.3-1 .4-1 .1-1-.2-1-.5-1-.6-1-.9-1-1.1-1.1-1.6-1.1-2-.2-1-.1-1 .2-1 .5-1 .9-1.1 .9-.9 1.5-1 1.5-.7zM0 193l0-.7 220.3 0 0 28.7-220.3 0z"/>
<path fill="#fed395" d="M81.6 124l1.1-.4 1-.1 1 0 1 .2 1 .4 1.4 .9 .9 1 .4 1 .2 1-.3 1-.7 1-.9 .9-1 .6-1 .5-1 .3-1 0-1-.2-1-.4-1-.7-.8-1-.6-1-.3-1 0-1 .4-1 .8-1zM0 194l0-.3 220.3 0 0 27.3-220.3 0z"/>
<path fill="#fed89a" d="M83.3 128l.4-.9 1 .5 .2 .4-.2 .1-1 .2zM0 196l0-.7 220.3 0 0 25.7-220.3 0z"/>
<path fill="#fddea0" d="M0 198l0-1 220.3 0 0 24-220.3 0z"/>
<path fill="#fde3a5" d="M0 199l0-.4 220.3 0 0 22.4-220.3 0z"/>
<path fill="#fde9aa" d="M0 201l0-.9 220.3 0 0 20.9-220.3 0z"/>
<path fill="#fcf0b2" d="M0 202l0-.1 220.3 0 0 19.1-220.3 0z"/>
<path fill="#fcf6b8" d="M0 204l0-.2 220.3 0 0 17.2-220.3 0z"/>
<path fill="#fcfbbd" d="M0 207l0-.6 220.3 0 0 14.6-220.3 0z"/>
</g>
<g id="cb" shape-rendering="crispEdges">
<rect y="0" width="11.2" height="3.06" fill="#fcfbbd"/>
<rect y="2.76" width="11.2" height="3.06" fill="#fcf6b8"/>
<rect y="5.53" width="11.2" height="3.06" fill="#fcf0b2"/>
<rect y="8.29" width="11.2" height="3.06" fill="#fde9aa"/>
<rect y="11.05" width="11.2" height="3.06" fill="#fde3a5"/>
<rect y="13.81" width="11.2" height="3.06" fill="#fddea0"/>
<rect y="16.58" width="11.2" height="3.06" fill="#fed89a"/>
<rect y="19.34" width="11.2" height="3.06" fill="#fed395"/>
<rect y="22.1" width="11.2" height="3.06" fill="#fecc8f"/>
<rect y="24.86" width="11.2" height="3.06" fill="#fec68a"/>
<rect y="27.62" width="11.2" height="3.06" fill="#fec185"/>
<rect y="30.39" width="11.2" height="3.06" fill="#febb81"/>
<rect y="33.15" width="11.2" height="3.06" fill="#feb67c"/>
<rect y="35.91" width="11.2" height="3.06" fill="#feae77"/>
<rect y="38.68" width="11.2" height="3.06" fill="#fea973"/>
<rect y="41.44" width="11.2" height="3.06" fill="#fea36f"/>
<rect y="44.2" width="11.2" height="3.06" fill="#fe9d6c"/>
<rect y="46.96" width="11.2" height="3.06" fill="#fd9869"/>
<rect y="49.73" width="11.2" height="3.06" fill="#fc9065"/>
<rect y="52.49" width="11.2" height="3.06" fill="#fc8a62"/>
<rect y="55.25" width="11.2" height="3.06" fill="#fb8560"/>
<rect y="58.01" width="11.2" height="3.06" fill="#fa7f5e"/>
<rect y="60.78" width="11.2" height="3.06" fill="#f9795d"/>
<rect y="63.54" width="11.2" height="3.06" fill="#f7725c"/>
<rect y="66.3" width="11.2" height="3.06" fill="#f66c5c"/>
<rect y="69.06" width="11.2" height="3.06" fill="#f4675c"/>
<rect y="71.83" width="11.2" height="3.06" fill="#f2625d"/>
<rect y="74.59" width="11.2" height="3.06" fill="#ef5d5e"/>
<rect y="77.35" width="11.2" height="3.06" fill="#eb5760"/>
<rect y="80.11" width="11.2" height="3.06" fill="#e85362"/>
<rect y="82.88" width="11.2" height="3.06" fill="#e44f64"/>
<rect y="85.64" width="11.2" height="3.06" fill="#e04c67"/>
<rect y="88.4" width="11.2" height="3.06" fill="#dc4869"/>
<rect y="91.16" width="11.2" height="3.06" fill="#d6456c"/>
<rect y="93.93" width="11.2" height="3.06" fill="#d2426f"/>
<rect y="96.69" width="11.2" height="3.06" fill="#cd4071"/>
<rect y="99.45" width="11.2" height="3.06" fill="#c83e73"/>
<rect y="102.21" width="11.2" height="3.06" fill="#c43c75"/>
<rect y="104.98" width="11.2" height="3.06" fill="#bd3977"/>
<rect y="107.74" width="11.2" height="3.06" fill="#b83779"/>
<rect y="110.5" width="11.2" height="3.06" fill="#b3367a"/>
<rect y="113.26" width="11.2" height="3.06" fill="#ae347b"/>
<rect y="116.03" width="11.2" height="3.06" fill="#aa337d"/>
<rect y="118.79" width="11.2" height="3.06" fill="#a3307e"/>
<rect y="121.55" width="11.2" height="3.06" fill="#9e2f7f"/>
<rect y="124.31" width="11.2" height="3.06" fill="#992d80"/>
<rect y="127.08" width="11.2" height="3.06" fill="#942c80"/>
<rect y="129.84" width="11.2" height="3.06" fill="#902a81"/>
<rect y="132.6" width="11.2" height="3.06" fill="#892881"/>
<rect y="135.36" width="11.2" height="3.06" fill="#842681"/>
<rect y="138.12" width="11.2" height="3.06" fill="#802582"/>
<rect y="140.89" width="11.2" height="3.06" fill="#7b2382"/>
<rect y="143.65" width="11.2" height="3.06" fill="#762181"/>
<rect y="146.41" width="11.2" height="3.06" fill="#701f81"/>
<rect y="149.18" width="11.2" height="3.06" fill="#6b1d81"/>
<rect y="151.94" width="11.2" height="3.06" fill="#671b80"/>
<rect y="154.7" width="11.2" height="3.06" fill="#621980"/>
<rect y="157.46" width="11.2" height="3.06" fill="#5d177f"/>
<rect y="160.23" width="11.2" height="3.06" fill="#57157e"/>
<rect y="162.99" width="11.2" height="3.06" fill="#52137c"/>
<rect y="165.75" width="11.2" height="3.06" fill="#4e117b"/>
<rect y="168.51" width="11.2" height="3.06" fill="#491078"/>
<rect y="171.28" width="11.2" height="3.06" fill="#440f76"/>
<rect y="174.04" width="11.2" height="3.06" fill="#3d0f71"/>
<rect y="176.8" width="11.2" height="3.06" fill="#38106c"/>
<rect y="179.56" width="11.2" height="3.06" fill="#331067"/>
<rect y="182.33" width="11.2" height="3.06" fill="#2d1161"/>
<rect y="185.09" width="11.2" height="3.06" fill="#29115a"/>
<rect y="187.85" width="11.2" height="3.06" fill="#221150"/>
<rect y="190.61" width="11.2" height="3.06" fill="#1e1149"/>
<rect y="193.38" width="11.2" height="3.06" fill="#1a1042"/>
<rect y="196.14" width="11.2" height="3.06" fill="#160f3b"/>
<rect y="198.9" width="11.2" height="3.06" fill="#130d34"/>
<rect y="201.66" width="11.2" height="3.06" fill="#0e0b2b"/>
<rect y="204.43" width="11.2" height="3.06" fill="#0b0924"/>
<rect y="207.19" width="11.2" height="3.06" fill="#08071e"/>
<rect y="209.95" width="11.2" height="3.06" fill="#060518"/>
<rect y="212.71" width="11.2" height="3.06" fill="#030312"/>
<rect y="215.48" width="11.2" height="3.06" fill="#020109"/>
<rect y="218.24" width="11.2" height="2.76" fill="#010005"/>
</g>
</defs>
<rect width="700" height="265" fill="#fff"/>
<use href="#fld" x="46.2" y="13.6"/>
<use href="#cb" x="280.4" y="13.6"/>
<rect class="fr" x="46.2" y="13.6" width="220.3" height="221"/>
<rect class="fr" x="280.4" y="13.6" width="11.15" height="221"/>
<text class="t e" x="39.2" y="209.69">500</text>
<text class="t e" x="39.2" y="178.22">1000</text>
<text class="t e" x="39.2" y="146.76">1500</text>
<text class="t e" x="39.2" y="115.3">2000</text>
<text class="t e" x="39.2" y="83.83">2500</text>
<text class="t e" x="39.2" y="52.37">3000</text>
<text class="t e" x="39.2" y="20.9">3500</text>
<text class="t m" x="46.2" y="249.9">0</text>
<text class="t m" x="107.7" y="249.9">100</text>
<text class="t m" x="169.2" y="249.9">200</text>
<text class="t m" x="230.7" y="249.9">300</text>
<text class="t" x="298.55" y="238.9">800</text>
<text class="t" x="298.55" y="211.28">900</text>
<text class="t" x="298.55" y="183.65">1000</text>
<text class="t" x="298.55" y="156.03">1100</text>
<text class="t" x="298.55" y="128.4">1200</text>
<text class="t" x="298.55" y="100.77">1300</text>
<text class="t" x="298.55" y="73.15">1400</text>
<text class="t" x="298.55" y="45.52">1500</text>
<text class="t" x="298.55" y="17.9">1600</text>
<path class="tk" d="M46.2 205.99h-3.8M46.2 174.52h-3.8M46.2 143.06h-3.8M46.2 111.59h-3.8M46.2 80.13h-3.8M46.2 48.66h-3.8M46.2 17.2h-3.8M46.2 234.6v3.8M107.7 234.6v3.8M169.2 234.6v3.8M230.7 234.6v3.8M291.55 234.6h3.8M291.55 206.97h3.8M291.55 179.35h3.8M291.55 151.72h3.8M291.55 124.1h3.8M291.55 96.47h3.8M291.55 68.85h3.8M291.55 41.23h3.8M291.55 13.6h3.8"/>
<text class="t m" x="156.35" y="7.6">Time = 9000.000-10000.000 days, Lat = (-10.000,10.000)</text>
<text class="t m" x="156.35" y="262.9">Longitude (deg)</text>
<text class="t m" transform="translate(8.8 124.1) rotate(-90)">Altitude (km)</text>
<text class="t m" transform="translate(336.05 124.1) rotate(-90)">Temperature (K)</text>
<use href="#fld2" x="408.85" y="13.6"/>
<use href="#cb" x="643.05" y="13.6"/>
<rect class="fr" x="408.85" y="13.6" width="220.3" height="221"/>
<rect class="fr" x="643.05" y="13.6" width="11.15" height="221"/>
<text class="t e" x="401.85" y="209.69">500</text>
<text class="t e" x="401.85" y="178.22">1000</text>
<text class="t e" x="401.85" y="146.76">1500</text>
<text class="t e" x="401.85" y="115.3">2000</text>
<text class="t e" x="401.85" y="83.83">2500</text>
<text class="t e" x="401.85" y="52.37">3000</text>
<text class="t e" x="401.85" y="20.9">3500</text>
<text class="t m" x="408.85" y="249.9">0</text>
<text class="t m" x="470.35" y="249.9">100</text>
<text class="t m" x="531.85" y="249.9">200</text>
<text class="t m" x="593.35" y="249.9">300</text>
<text class="t" x="661.2" y="238.9">800</text>
<text class="t" x="661.2" y="211.28">900</text>
<text class="t" x="661.2" y="183.65">1000</text>
<text class="t" x="661.2" y="156.03">1100</text>
<text class="t" x="661.2" y="128.4">1200</text>
<text class="t" x="661.2" y="100.77">1300</text>
<text class="t" x="661.2" y="73.15">1400</text>
<text class="t" x="661.2" y="45.52">1500</text>
<text class="t" x="661.2" y="17.9">1600</text>
<path class="tk" d="M408.85 205.99h-3.8M408.85 174.52h-3.8M408.85 143.06h-3.8M408.85 111.59h-3.8M408.85 80.13h-3.8M408.85 48.66h-3.8M408.85 17.2h-3.8M408.85 234.6v3.8M470.35 234.6v3.8M531.85 234.6v3.8M593.35 234.6v3.8M654.2 234.6h3.8M654.2 206.97h3.8M654.2 179.35h3.8M654.2 151.72h3.8M654.2 124.1h3.8M654.2 96.47h3.8M654.2 68.85h3.8M654.2 41.23h3.8M654.2 13.6h3.8"/>
<text class="t m" x="519" y="7.6">Time = 9000.000-10000.000 days, Lat = (-10.000,10.000)</text>
<text class="t m" x="519" y="262.9">Longitude (deg)</text>
<text class="t m" transform="translate(371.45 124.1) rotate(-90)">Altitude (km)</text>
<text class="t m" transform="translate(698.7 124.1) rotate(-90)">Temperature (K)</text>
</svg>
</body></html>
